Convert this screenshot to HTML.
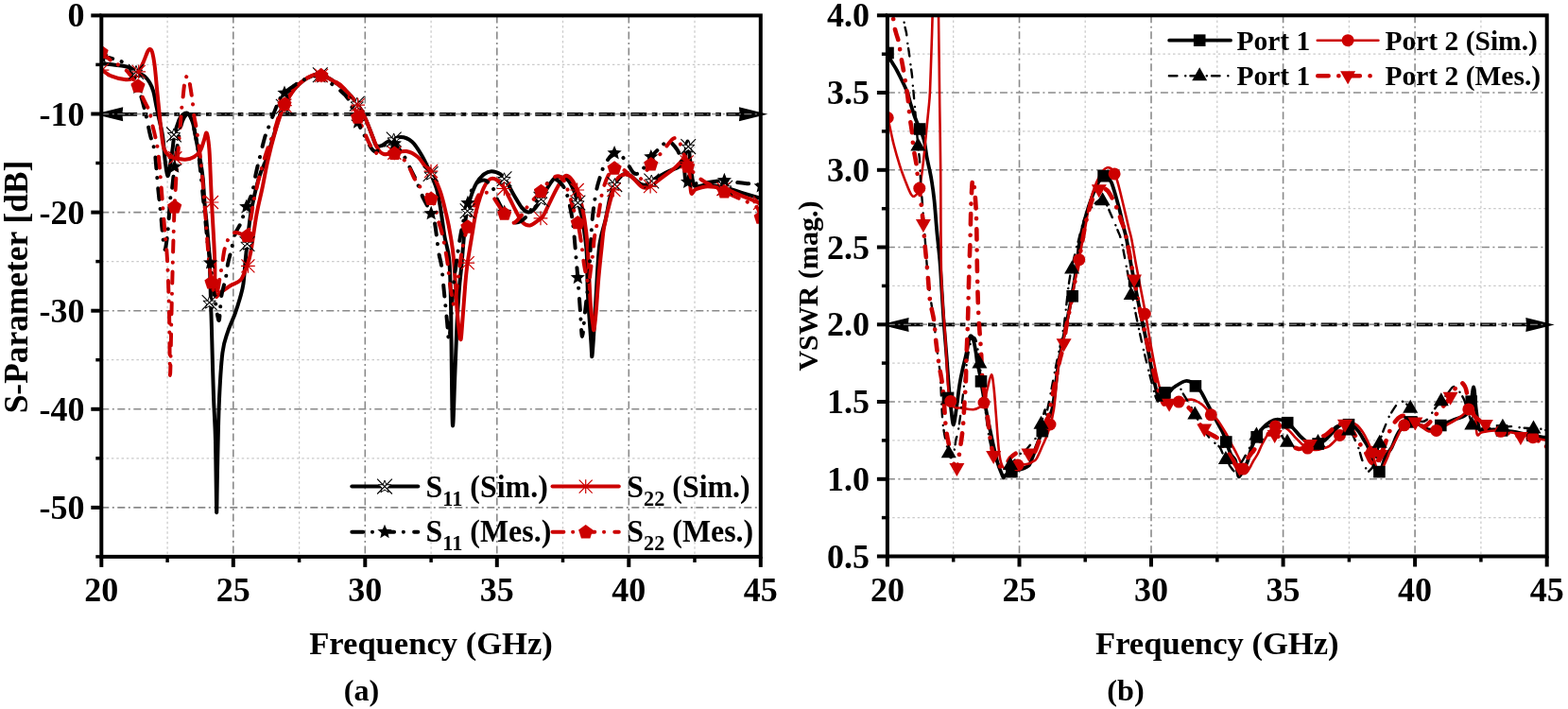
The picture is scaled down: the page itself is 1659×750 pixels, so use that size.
<!DOCTYPE html><html><head><meta charset="utf-8"><title>S-Parameter and VSWR</title><style>html,body{margin:0;padding:0;background:#fff;overflow:hidden}svg{display:block}</style></head><body><svg width="1659" height="750" viewBox="0 0 1659 750">
<rect width="100%" height="100%" fill="#fff"/>
<line x1="177.1" y1="16.4" x2="177.1" y2="588.9" stroke="#cacaca" stroke-width="1.25" stroke-dasharray="2.5 2.8"/>
<line x1="316.6" y1="16.4" x2="316.6" y2="588.9" stroke="#cacaca" stroke-width="1.25" stroke-dasharray="2.5 2.8"/>
<line x1="456.1" y1="16.4" x2="456.1" y2="588.9" stroke="#cacaca" stroke-width="1.25" stroke-dasharray="2.5 2.8"/>
<line x1="595.5" y1="16.4" x2="595.5" y2="588.9" stroke="#cacaca" stroke-width="1.25" stroke-dasharray="2.5 2.8"/>
<line x1="735.0" y1="16.4" x2="735.0" y2="588.9" stroke="#cacaca" stroke-width="1.25" stroke-dasharray="2.5 2.8"/>
<line x1="246.8" y1="16.4" x2="246.8" y2="588.9" stroke="#8a8a8a" stroke-width="1.6" stroke-dasharray="8 3.5 2 3.5"/>
<line x1="386.3" y1="16.4" x2="386.3" y2="588.9" stroke="#8a8a8a" stroke-width="1.6" stroke-dasharray="8 3.5 2 3.5"/>
<line x1="525.8" y1="16.4" x2="525.8" y2="588.9" stroke="#8a8a8a" stroke-width="1.6" stroke-dasharray="8 3.5 2 3.5"/>
<line x1="665.3" y1="16.4" x2="665.3" y2="588.9" stroke="#8a8a8a" stroke-width="1.6" stroke-dasharray="8 3.5 2 3.5"/>
<line x1="107.3" y1="68.4" x2="804.8" y2="68.4" stroke="#cacaca" stroke-width="1.25" stroke-dasharray="2.5 2.8"/>
<line x1="107.3" y1="172.5" x2="804.8" y2="172.5" stroke="#cacaca" stroke-width="1.25" stroke-dasharray="2.5 2.8"/>
<line x1="107.3" y1="276.6" x2="804.8" y2="276.6" stroke="#cacaca" stroke-width="1.25" stroke-dasharray="2.5 2.8"/>
<line x1="107.3" y1="380.7" x2="804.8" y2="380.7" stroke="#cacaca" stroke-width="1.25" stroke-dasharray="2.5 2.8"/>
<line x1="107.3" y1="484.8" x2="804.8" y2="484.8" stroke="#cacaca" stroke-width="1.25" stroke-dasharray="2.5 2.8"/>
<line x1="107.3" y1="120.5" x2="804.8" y2="120.5" stroke="#8a8a8a" stroke-width="1.6" stroke-dasharray="8 3.5 2 3.5"/>
<line x1="107.3" y1="224.6" x2="804.8" y2="224.6" stroke="#8a8a8a" stroke-width="1.6" stroke-dasharray="8 3.5 2 3.5"/>
<line x1="107.3" y1="328.7" x2="804.8" y2="328.7" stroke="#8a8a8a" stroke-width="1.6" stroke-dasharray="8 3.5 2 3.5"/>
<line x1="107.3" y1="432.8" x2="804.8" y2="432.8" stroke="#8a8a8a" stroke-width="1.6" stroke-dasharray="8 3.5 2 3.5"/>
<line x1="107.3" y1="536.9" x2="804.8" y2="536.9" stroke="#8a8a8a" stroke-width="1.6" stroke-dasharray="8 3.5 2 3.5"/>
<line x1="1008.7" y1="16.3" x2="1008.7" y2="588.5" stroke="#cacaca" stroke-width="1.25" stroke-dasharray="2.5 2.8"/>
<line x1="1148.2" y1="16.3" x2="1148.2" y2="588.5" stroke="#cacaca" stroke-width="1.25" stroke-dasharray="2.5 2.8"/>
<line x1="1287.8" y1="16.3" x2="1287.8" y2="588.5" stroke="#cacaca" stroke-width="1.25" stroke-dasharray="2.5 2.8"/>
<line x1="1427.4" y1="16.3" x2="1427.4" y2="588.5" stroke="#cacaca" stroke-width="1.25" stroke-dasharray="2.5 2.8"/>
<line x1="1566.9" y1="16.3" x2="1566.9" y2="588.5" stroke="#cacaca" stroke-width="1.25" stroke-dasharray="2.5 2.8"/>
<line x1="1078.5" y1="16.3" x2="1078.5" y2="588.5" stroke="#8a8a8a" stroke-width="1.6" stroke-dasharray="8 3.5 2 3.5"/>
<line x1="1218.0" y1="16.3" x2="1218.0" y2="588.5" stroke="#8a8a8a" stroke-width="1.6" stroke-dasharray="8 3.5 2 3.5"/>
<line x1="1357.6" y1="16.3" x2="1357.6" y2="588.5" stroke="#8a8a8a" stroke-width="1.6" stroke-dasharray="8 3.5 2 3.5"/>
<line x1="1497.1" y1="16.3" x2="1497.1" y2="588.5" stroke="#8a8a8a" stroke-width="1.6" stroke-dasharray="8 3.5 2 3.5"/>
<line x1="938.9" y1="57.2" x2="1636.7" y2="57.2" stroke="#cacaca" stroke-width="1.25" stroke-dasharray="2.5 2.8"/>
<line x1="938.9" y1="138.9" x2="1636.7" y2="138.9" stroke="#cacaca" stroke-width="1.25" stroke-dasharray="2.5 2.8"/>
<line x1="938.9" y1="220.7" x2="1636.7" y2="220.7" stroke="#cacaca" stroke-width="1.25" stroke-dasharray="2.5 2.8"/>
<line x1="938.9" y1="302.4" x2="1636.7" y2="302.4" stroke="#cacaca" stroke-width="1.25" stroke-dasharray="2.5 2.8"/>
<line x1="938.9" y1="384.1" x2="1636.7" y2="384.1" stroke="#cacaca" stroke-width="1.25" stroke-dasharray="2.5 2.8"/>
<line x1="938.9" y1="465.9" x2="1636.7" y2="465.9" stroke="#cacaca" stroke-width="1.25" stroke-dasharray="2.5 2.8"/>
<line x1="938.9" y1="547.6" x2="1636.7" y2="547.6" stroke="#cacaca" stroke-width="1.25" stroke-dasharray="2.5 2.8"/>
<line x1="938.9" y1="98.0" x2="1636.7" y2="98.0" stroke="#8a8a8a" stroke-width="1.6" stroke-dasharray="8 3.5 2 3.5"/>
<line x1="938.9" y1="179.8" x2="1636.7" y2="179.8" stroke="#8a8a8a" stroke-width="1.6" stroke-dasharray="8 3.5 2 3.5"/>
<line x1="938.9" y1="261.5" x2="1636.7" y2="261.5" stroke="#8a8a8a" stroke-width="1.6" stroke-dasharray="8 3.5 2 3.5"/>
<line x1="938.9" y1="343.3" x2="1636.7" y2="343.3" stroke="#8a8a8a" stroke-width="1.6" stroke-dasharray="8 3.5 2 3.5"/>
<line x1="938.9" y1="425.0" x2="1636.7" y2="425.0" stroke="#8a8a8a" stroke-width="1.6" stroke-dasharray="8 3.5 2 3.5"/>
<line x1="938.9" y1="506.8" x2="1636.7" y2="506.8" stroke="#8a8a8a" stroke-width="1.6" stroke-dasharray="8 3.5 2 3.5"/>
<defs><clipPath id="ca"><rect x="107.3" y="16.4" width="697.5" height="572.5"/></clipPath><clipPath id="cb"><rect x="938.9" y="16.3" width="697.8000000000001" height="572.2"/></clipPath></defs>
<line x1="128.2" y1="120.8" x2="783.9" y2="120.8" stroke="#000" stroke-width="3.7" stroke-dasharray="16.9 5.5 5.7 5.6"/>
<path d="M99.8,120.8 L130.2,113.3 Q128.7,120.8 130.2,128.3 Z" fill="#000"/>
<path d="M812.3,120.8 L781.9,113.3 Q783.4,120.8 781.9,128.3 Z" fill="#000"/>
<line x1="107.3" y1="120.8" x2="804.8" y2="120.8" stroke="#9a9a9a" stroke-width="1.1" stroke-dasharray="8 3.5 2 3.5"/>
<path d="M107.7,67.3C109.8,67.5 116.0,68.0 120.0,68.5C124.0,69.0 128.4,69.3 131.7,70.0C135.0,70.7 137.5,71.6 139.7,72.7C141.9,73.8 142.8,75.4 145.0,76.7C147.2,78.0 150.8,78.9 153.0,80.7C155.2,82.5 156.8,84.6 158.3,87.3C159.9,90.0 161.2,92.9 162.3,96.7C163.4,100.5 164.1,105.6 165.0,110.0C165.9,114.4 166.5,117.8 167.7,123.3C168.9,128.8 170.8,135.5 172.0,143.3C173.2,151.1 173.8,162.9 174.7,170.0C175.6,177.1 176.4,185.2 177.3,186.0C178.2,186.8 179.1,179.9 180.0,175.0C180.9,170.1 181.9,162.0 182.7,156.7C183.4,151.4 183.4,147.9 184.5,143.0C185.6,138.1 187.9,130.9 189.3,127.3C190.7,123.7 191.4,122.7 193.0,121.5C194.6,120.3 196.9,118.6 198.7,120.0C200.5,121.4 202.4,125.0 204.0,130.0C205.6,135.0 206.7,143.3 208.0,150.0C209.3,156.7 210.9,163.6 212.0,170.0C213.1,176.4 213.9,181.2 214.7,188.7C215.4,196.2 215.8,206.4 216.5,215.0C217.2,223.6 218.2,230.8 219.0,240.0C219.8,249.2 220.9,260.0 221.5,270.0C222.1,280.0 222.2,290.3 222.5,300.0C222.8,309.7 223.1,319.7 223.3,328.0C223.6,336.3 223.6,334.7 224.0,350.0C224.4,365.3 225.3,400.6 226.0,420.0C226.7,439.4 227.5,446.4 228.0,466.6C228.5,486.8 228.8,535.0 229.1,541.2C229.4,547.4 229.5,522.5 229.9,503.9C230.3,485.2 230.8,451.1 231.7,429.3C232.6,407.5 233.8,386.4 235.4,373.3C237.0,360.2 238.8,357.9 241.0,351.0C243.2,344.1 246.3,338.2 248.5,332.2C250.7,326.2 252.5,320.4 254.0,315.0C255.5,309.6 256.5,307.2 257.5,300.0C258.5,292.8 259.2,279.8 260.0,272.0C260.8,264.2 261.2,260.0 262.0,253.0C262.8,246.0 263.7,236.8 264.7,230.0C265.7,223.2 266.8,217.8 268.0,212.0C269.2,206.2 270.7,200.0 272.0,195.0C273.3,190.0 274.3,186.5 276.0,182.0C277.7,177.5 279.7,174.7 282.0,168.0C284.3,161.3 287.2,151.0 290.0,142.0C292.8,133.0 295.7,121.7 299.0,114.0C302.3,106.3 306.5,100.7 310.0,96.0C313.5,91.3 316.7,88.6 320.0,86.0C323.3,83.4 327.0,81.7 330.0,80.5C333.0,79.3 334.7,78.4 338.0,79.0C341.3,79.6 345.3,81.2 350.0,84.0C354.7,86.8 361.3,91.7 366.0,96.0C370.7,100.3 374.7,105.3 378.0,110.0C381.3,114.7 383.3,118.3 386.0,124.0C388.7,129.7 392.0,139.0 394.0,144.0C396.0,149.0 396.3,152.3 398.0,154.0C399.7,155.7 402.0,154.7 404.0,154.0C406.0,153.3 406.7,151.5 410.0,150.0C413.3,148.5 419.7,145.0 424.0,145.0C428.3,145.0 432.3,146.8 436.0,150.0C439.7,153.2 443.0,159.0 446.0,164.0C449.0,169.0 451.3,174.0 454.0,180.0C456.7,186.0 460.0,193.3 462.0,200.0C464.0,206.7 464.6,211.7 466.0,220.0C467.4,228.3 468.9,241.0 470.4,250.0C471.9,259.0 474.1,262.3 475.2,274.0C476.3,285.7 476.4,291.0 477.0,320.0C477.6,349.0 478.1,434.6 478.8,447.9C479.5,461.2 480.4,418.0 481.2,400.0C482.0,382.0 482.8,356.0 483.6,340.0C484.4,324.0 485.2,314.0 486.0,304.0C486.8,294.0 487.3,292.2 488.4,280.0C489.5,267.8 491.3,242.5 492.8,230.8C494.3,219.1 495.7,216.1 497.6,210.0C499.5,203.9 501.6,198.3 504.0,194.0C506.4,189.7 509.3,186.5 512.0,184.4C514.7,182.3 517.1,181.2 520.0,181.2C522.9,181.2 526.9,182.5 529.6,184.4C532.3,186.3 533.6,188.7 536.0,192.4C538.4,196.1 541.3,202.3 544.0,206.8C546.7,211.3 549.6,216.7 552.0,219.6C554.4,222.5 556.4,223.9 558.4,224.4C560.4,224.9 562.0,224.1 564.0,222.4C566.0,220.7 568.0,218.1 570.4,214.4C572.8,210.7 575.7,204.3 578.4,200.0C581.1,195.7 584.0,190.9 586.4,188.8C588.8,186.7 590.4,186.9 592.8,187.2C595.2,187.5 598.4,188.0 600.8,190.4C603.2,192.8 605.6,198.1 607.2,201.6C608.8,205.1 609.1,206.9 610.4,211.2C611.7,215.5 613.9,221.3 615.2,227.2C616.5,233.1 617.5,239.5 618.4,246.4C619.3,253.3 620.2,257.9 620.8,268.8C621.4,279.7 621.2,296.1 622.0,312.0C622.8,327.9 624.8,353.2 625.5,364.0C626.2,374.8 626.0,378.4 626.4,377.0C626.8,375.6 627.4,366.1 628.1,355.3C628.8,344.5 629.7,327.9 630.7,312.0C631.7,296.1 632.5,273.3 634.2,260.0C635.9,246.7 638.9,240.7 640.8,232.0C642.7,223.3 644.0,214.2 645.6,208.0C647.2,201.8 648.1,198.9 650.4,195.0C652.7,191.1 656.4,185.9 659.2,184.4C662.0,182.9 664.3,184.4 667.2,186.0C670.1,187.6 674.1,192.4 676.8,194.0C679.5,195.6 680.5,196.4 683.2,195.6C685.9,194.8 688.8,191.6 692.8,189.2C696.8,186.8 702.9,183.3 707.2,181.2C711.5,179.1 715.6,178.6 718.4,176.4C721.2,174.2 722.5,172.5 724.0,168.0C725.5,163.5 726.5,149.5 727.5,149.5C728.5,149.5 729.1,161.1 730.0,168.0C730.9,174.9 731.8,185.9 732.8,190.8C733.8,195.7 733.3,196.4 736.0,197.2C738.7,198.0 743.5,195.3 748.8,195.6C754.1,195.9 762.1,197.5 768.0,198.8C773.9,200.1 778.7,202.0 784.0,203.6C789.3,205.2 796.5,207.3 800.0,208.4C803.5,209.5 804.0,209.7 804.8,210.0" fill="none" stroke="#000" stroke-width="4.0" stroke-linecap="round" stroke-linejoin="round" clip-path="url(#ca)"/>
<path d="M107.7,74.0C109.5,75.1 114.3,79.0 118.3,80.7C122.3,82.4 128.1,83.6 131.7,84.0C135.3,84.4 137.5,84.1 139.7,83.3C141.9,82.5 142.9,82.3 145.0,79.3C147.1,76.2 150.2,69.0 152.0,65.0C153.8,61.0 154.9,57.2 156.0,55.0C157.1,52.8 157.5,52.0 158.3,52.0C159.1,52.0 160.1,52.0 161.0,55.0C161.9,58.0 162.8,63.0 163.7,70.0C164.6,77.0 165.4,87.8 166.3,96.7C167.2,105.6 168.3,116.4 169.0,123.3C169.7,130.2 169.8,132.4 170.5,138.0C171.2,143.6 171.9,152.2 173.3,156.7C174.7,161.1 176.7,162.9 178.7,164.7C180.7,166.5 182.4,166.6 185.3,167.3C188.2,168.0 192.7,168.9 196.0,168.7C199.3,168.5 202.6,167.6 205.3,166.0C208.0,164.4 210.2,162.3 212.0,159.3C213.8,156.3 214.9,151.1 216.0,148.0C217.1,144.9 217.8,139.2 218.7,140.7C219.6,142.1 220.7,150.1 221.3,156.7C221.9,163.2 222.1,170.4 222.5,180.0C222.9,189.6 223.4,202.3 224.0,214.0C224.6,225.7 225.4,239.2 226.0,250.0C226.6,260.8 227.0,268.4 227.3,278.7C227.6,289.0 227.0,306.9 228.0,312.0C229.0,317.1 230.6,311.0 233.3,309.3C236.0,307.6 240.4,304.2 244.0,302.0C247.6,299.8 251.8,299.4 254.7,296.0C257.6,292.6 259.5,286.2 261.3,281.3C263.1,276.4 263.6,275.8 265.3,266.7C267.0,257.6 269.5,237.8 271.5,226.7C273.5,215.6 275.3,209.4 277.3,200.0C279.3,190.6 281.0,180.0 283.3,170.0C285.6,160.0 288.4,149.0 291.0,140.0C293.6,131.0 295.8,123.3 299.0,116.0C302.2,108.7 306.5,101.0 310.0,96.0C313.5,91.0 316.7,88.7 320.0,86.0C323.3,83.3 327.0,81.2 330.0,80.0C333.0,78.8 334.7,78.3 338.0,79.0C341.3,79.7 345.3,81.2 350.0,84.0C354.7,86.8 361.3,91.7 366.0,96.0C370.7,100.3 374.7,105.3 378.0,110.0C381.3,114.7 383.3,118.3 386.0,124.0C388.7,129.7 391.7,138.3 394.0,144.0C396.3,149.7 398.0,154.8 400.0,158.0C402.0,161.2 403.3,162.3 406.0,163.0C408.7,163.7 412.0,162.5 416.0,162.0C420.0,161.5 425.7,159.3 430.0,160.0C434.3,160.7 438.7,163.3 442.0,166.0C445.3,168.7 447.7,173.5 450.0,176.0C452.3,178.5 453.4,176.7 456.0,181.0C458.6,185.3 462.9,194.5 465.6,202.0C468.3,209.5 470.1,218.0 472.0,226.0C473.9,234.0 475.5,242.0 476.8,250.0C478.1,258.0 478.9,261.0 480.0,274.0C481.1,287.0 482.6,315.0 483.6,328.0C484.6,341.0 485.4,346.8 486.0,352.0C486.6,357.2 486.8,359.0 487.2,359.0C487.6,359.0 487.6,361.2 488.4,352.0C489.2,342.8 491.0,316.0 492.0,304.0C493.0,292.0 493.2,289.0 494.4,280.0C495.6,271.0 497.6,259.5 499.2,250.0C500.8,240.5 502.1,230.8 504.0,222.8C505.9,214.8 508.3,207.3 510.4,202.0C512.5,196.7 514.7,192.9 516.8,190.8C518.9,188.7 520.8,188.4 523.2,189.2C525.6,190.0 528.5,192.1 531.2,195.6C533.9,199.1 536.8,205.5 539.2,210.0C541.6,214.5 543.3,218.6 545.6,222.8C547.9,227.0 550.3,232.6 552.8,235.2C555.3,237.8 558.1,238.7 560.8,238.4C563.5,238.1 566.5,235.2 568.8,233.6C571.1,232.0 572.3,232.0 574.4,228.8C576.5,225.6 579.1,219.5 581.6,214.4C584.1,209.3 586.9,203.1 589.6,198.4C592.3,193.7 595.2,188.0 597.6,186.4C600.0,184.8 601.9,186.5 604.0,188.8C606.1,191.1 608.5,195.5 610.4,200.0C612.3,204.5 613.9,210.7 615.2,216.0C616.5,221.3 617.3,224.7 618.4,232.0C619.5,239.3 620.5,245.2 621.6,260.0C622.7,274.8 623.8,306.8 624.7,320.7C625.7,334.6 626.7,338.6 627.3,343.2C627.9,347.8 627.9,350.7 628.5,348.4C629.1,346.1 629.9,338.2 630.7,329.3C631.5,320.4 632.3,306.2 633.3,294.7C634.3,283.1 635.8,269.1 636.8,260.0C637.8,250.9 637.7,247.9 639.2,240.0C640.7,232.1 643.3,221.1 645.6,212.8C647.9,204.5 650.3,194.7 652.8,190.0C655.3,185.3 658.1,184.8 660.8,184.4C663.5,184.0 665.9,185.5 668.8,187.6C671.7,189.7 676.0,195.3 678.4,197.2C680.8,199.1 681.6,198.8 683.2,198.8C684.8,198.8 685.1,199.1 688.0,197.2C690.9,195.3 696.5,190.8 700.8,187.6C705.1,184.4 710.4,180.7 713.6,178.0C716.8,175.3 718.1,173.5 720.0,171.6C721.9,169.7 723.3,166.0 724.8,166.8C726.3,167.6 727.7,170.3 728.8,176.4C729.9,182.5 730.0,199.6 731.2,203.6C732.4,207.6 733.1,201.5 736.0,200.4C738.9,199.3 743.5,197.2 748.8,197.2C754.1,197.2 762.1,198.8 768.0,200.4C773.9,202.0 778.7,204.7 784.0,206.8C789.3,208.9 796.5,211.8 800.0,213.2C803.5,214.6 804.0,214.7 804.8,215.0" fill="none" stroke="#cc0000" stroke-width="4.0" stroke-linecap="round" stroke-linejoin="round" clip-path="url(#ca)"/>
<path d="M107.7,60.0C109.1,60.2 112.6,60.5 116.0,61.3C119.4,62.1 125.0,63.5 128.3,65.0C131.6,66.5 133.9,67.5 136.0,70.0C138.1,72.5 139.5,76.7 141.0,80.0C142.5,83.3 143.6,86.3 145.0,90.0C146.4,93.7 147.7,96.7 149.3,102.0C150.9,107.3 152.9,115.1 154.5,122.0C156.1,128.9 157.5,137.3 159.0,143.3C160.5,149.3 162.2,152.4 163.3,158.0C164.4,163.6 164.6,169.7 165.3,176.7C166.0,183.7 166.5,191.9 167.3,200.0C168.1,208.1 169.3,218.3 170.0,225.0C170.7,231.7 170.8,234.4 171.3,240.0C171.9,245.6 172.7,254.9 173.3,258.7C173.9,262.5 174.2,266.1 175.0,263.0C175.8,259.9 177.2,248.5 178.0,240.0C178.8,231.5 179.3,218.7 180.0,212.0C180.7,205.3 181.0,207.8 182.0,200.0C183.0,192.2 184.5,175.8 186.0,165.0C187.5,154.2 189.5,141.8 191.0,135.0C192.5,128.2 193.7,126.3 195.0,124.0C196.3,121.7 197.5,121.0 198.7,121.0C199.9,121.0 200.9,121.7 202.0,124.0C203.1,126.3 203.8,129.8 205.0,135.0C206.2,140.2 207.8,147.5 209.0,155.0C210.2,162.5 211.0,170.8 212.0,180.0C213.0,189.2 214.0,200.0 215.0,210.0C216.0,220.0 217.2,231.7 218.0,240.0C218.8,248.3 219.2,253.7 220.0,260.0C220.8,266.3 221.8,271.3 222.6,278.0C223.4,284.7 224.1,293.0 225.0,300.0C225.9,307.0 227.2,314.5 228.0,320.0C228.8,325.5 229.3,330.0 230.0,333.0C230.7,336.0 231.3,341.3 232.0,338.0C232.7,334.7 233.2,320.2 234.3,313.0C235.4,305.8 237.6,300.5 238.7,295.0C239.8,289.5 239.9,285.0 240.9,280.0C241.9,275.0 243.2,270.5 244.6,265.0C245.9,259.5 247.3,251.8 249.0,247.0C250.7,242.2 252.8,240.7 254.7,236.0C256.6,231.3 258.7,224.0 260.7,218.7C262.7,213.4 265.0,209.8 266.7,204.0C268.4,198.2 269.5,189.7 270.7,184.0C271.9,178.3 272.4,176.3 274.0,170.0C275.6,163.7 278.0,152.7 280.0,146.0C282.0,139.3 284.0,135.3 286.0,130.0C288.0,124.7 289.8,119.0 292.0,114.0C294.2,109.0 296.3,103.5 299.0,100.0C301.7,96.5 304.5,95.5 308.0,93.0C311.5,90.5 315.0,87.2 320.0,85.0C325.0,82.8 333.0,79.5 338.0,80.0C343.0,80.5 345.0,84.0 350.0,88.0C355.0,92.0 363.7,98.0 368.0,104.0C372.3,110.0 373.0,117.3 376.0,124.0C379.0,130.7 382.7,138.0 386.0,144.0C389.3,150.0 392.7,158.3 396.0,160.0C399.3,161.7 403.0,156.0 406.0,154.0C409.0,152.0 411.5,147.7 414.0,148.0C416.5,148.3 418.7,153.0 421.0,156.0C423.3,159.0 425.8,162.3 428.0,166.0C430.2,169.7 432.0,174.0 434.0,178.0C436.0,182.0 438.3,186.3 440.0,190.0C441.7,193.7 442.7,196.7 444.0,200.0C445.3,203.3 446.5,206.8 448.0,210.0C449.5,213.2 450.9,215.3 452.8,219.0C454.7,222.7 457.3,224.2 459.2,232.0C461.1,239.8 462.7,257.7 464.0,266.0C465.3,274.3 466.2,274.7 467.2,282.0C468.2,289.3 469.0,300.3 470.0,310.0C471.0,319.7 472.2,331.7 473.0,340.0C473.8,348.3 474.3,360.0 475.0,360.0C475.7,360.0 476.2,350.0 477.0,340.0C477.8,330.0 478.8,311.7 480.0,300.0C481.2,288.3 482.7,279.2 484.0,270.0C485.3,260.8 486.3,253.9 488.0,245.0C489.7,236.1 492.3,224.4 494.4,216.4C496.5,208.4 498.7,201.3 500.8,197.2C502.9,193.1 504.9,193.1 507.0,192.0C509.1,190.9 511.6,190.1 513.6,190.8C515.6,191.5 517.4,194.1 519.0,196.0C520.6,197.9 522.0,199.4 523.2,202.0C524.4,204.6 524.9,208.3 526.4,211.6C527.9,214.9 529.9,218.5 532.0,222.0C534.1,225.5 536.9,230.1 539.2,232.4C541.5,234.7 542.8,236.0 545.6,235.6C548.4,235.2 552.6,233.4 556.0,230.0C559.4,226.6 562.7,220.3 566.0,215.0C569.3,209.7 572.7,202.3 576.0,198.0C579.3,193.7 582.5,188.9 586.0,189.0C589.5,189.1 594.1,194.2 596.8,198.4C599.5,202.6 600.5,207.9 602.0,214.0C603.5,220.1 604.9,226.7 606.0,235.0C607.1,243.3 608.0,254.8 608.8,264.0C609.6,273.2 610.1,279.0 611.0,290.0C611.9,301.0 613.2,319.0 614.0,330.0C614.8,341.0 615.2,356.0 616.0,356.0C616.8,356.0 617.8,341.0 619.0,330.0C620.2,319.0 622.0,305.8 623.2,290.0C624.4,274.2 625.2,249.4 626.4,235.2C627.6,221.0 629.1,212.7 630.4,205.0C631.7,197.3 632.8,194.0 634.4,188.8C636.0,183.6 637.3,178.5 640.0,174.0C642.7,169.5 646.9,162.5 650.4,161.6C653.9,160.7 657.5,164.9 660.8,168.4C664.1,171.9 667.5,180.7 670.4,182.8C673.3,184.9 675.5,183.9 678.4,181.2C681.3,178.5 684.5,171.1 688.0,166.8C691.5,162.5 696.0,158.5 699.2,155.6C702.4,152.7 704.3,148.7 707.2,149.2C710.1,149.7 714.7,155.6 716.8,158.8C718.9,162.0 718.8,164.9 720.0,168.4C721.2,171.9 722.9,176.0 724.0,180.0C725.1,184.0 723.9,190.1 726.4,192.4C728.9,194.7 732.5,194.3 739.2,194.0C745.9,193.7 760.3,191.1 766.4,190.8C772.5,190.5 772.3,191.9 776.0,192.4C779.7,192.9 784.8,193.6 788.8,194.0C792.8,194.4 797.3,194.3 800.0,194.8C802.7,195.3 804.0,196.6 804.8,197.0" fill="none" stroke="#000" stroke-width="4.0" stroke-linecap="round" stroke-linejoin="round" stroke-dasharray="11.9 9.7 0.1 11.2" clip-path="url(#ca)"/>
<path d="M107.7,55.3C109.5,56.9 115.0,62.2 118.3,64.7C121.6,67.2 124.8,68.0 127.7,70.0C130.6,72.0 132.7,73.2 135.7,76.7C138.7,80.2 143.0,86.6 145.7,91.3C148.4,96.0 149.6,100.2 151.7,104.7C153.8,109.2 156.9,114.2 158.3,118.0C159.7,121.8 159.1,123.1 160.0,127.3C160.9,131.5 162.8,137.7 164.0,143.3C165.2,148.9 166.3,152.9 167.3,160.7C168.3,168.5 168.9,176.8 170.0,190.0C171.1,203.2 172.8,225.8 174.0,240.0C175.2,254.2 176.2,260.0 177.0,275.0C177.8,290.0 178.5,309.7 179.0,330.0C179.5,350.3 179.6,397.0 180.0,397.0C180.4,397.0 181.0,351.2 181.5,330.0C182.0,308.8 182.6,285.7 183.0,270.0C183.4,254.3 183.7,244.6 184.0,236.0C184.3,227.4 184.2,227.5 184.7,218.7C185.1,209.9 185.9,194.8 186.7,183.3C187.5,171.9 188.6,158.9 189.3,150.0C190.0,141.1 190.6,135.5 191.0,130.0C191.4,124.5 191.6,121.5 192.0,117.0C192.4,112.5 193.1,107.5 193.6,103.0C194.1,98.5 194.5,93.3 195.0,90.0C195.5,86.7 195.9,84.7 196.5,83.0C197.1,81.3 197.9,79.8 198.5,80.0C199.1,80.2 199.6,82.2 200.0,84.0C200.4,85.8 200.7,88.2 201.2,91.0C201.7,93.8 202.3,97.8 202.8,101.0C203.3,104.2 203.5,106.2 204.0,110.0C204.5,113.8 204.9,119.5 205.6,124.0C206.3,128.5 207.2,131.6 208.0,137.0C208.8,142.4 209.9,150.8 210.7,156.7C211.5,162.6 211.8,163.8 212.7,172.7C213.6,181.6 214.9,197.1 216.0,210.0C217.1,222.9 218.1,238.6 219.0,250.0C219.9,261.4 220.5,270.6 221.3,278.7C222.1,286.8 223.2,293.8 224.0,298.7C224.8,303.6 225.4,305.8 226.0,308.0C226.6,310.2 227.1,312.0 227.8,312.0C228.5,312.0 229.3,310.5 230.0,308.0C230.7,305.5 231.3,301.7 232.1,297.0C232.9,292.3 234.1,285.3 235.0,280.0C235.9,274.7 236.4,269.0 237.3,265.0C238.2,261.0 239.1,258.8 240.2,256.0C241.3,253.2 242.3,249.7 243.9,248.0C245.5,246.3 248.0,246.0 250.0,246.0C252.0,246.0 254.1,247.4 256.0,248.0C257.9,248.6 260.2,250.9 261.5,249.6C262.8,248.3 262.9,245.8 264.0,240.0C265.1,234.2 266.7,222.2 268.0,215.0C269.3,207.8 270.7,202.7 272.0,197.0C273.3,191.3 274.7,186.0 276.0,181.0C277.3,176.0 278.7,171.3 280.0,167.0C281.3,162.7 282.3,159.7 284.0,155.0C285.7,150.3 287.7,145.7 290.0,139.0C292.3,132.3 294.7,122.2 298.0,115.0C301.3,107.8 306.3,100.8 310.0,96.0C313.7,91.2 316.7,88.7 320.0,86.0C323.3,83.3 327.0,81.2 330.0,80.0C333.0,78.8 334.7,78.3 338.0,79.0C341.3,79.7 345.3,81.2 350.0,84.0C354.7,86.8 360.3,87.3 366.0,96.0C371.7,104.7 379.7,126.3 384.0,136.0C388.3,145.7 389.0,149.3 392.0,154.0C395.0,158.7 397.8,162.7 402.0,164.0C406.2,165.3 412.3,160.7 417.0,162.0C421.7,163.3 426.5,167.7 430.0,172.0C433.5,176.3 436.1,184.6 438.0,188.0C439.9,191.4 440.3,190.4 441.6,192.4C442.9,194.4 443.6,197.1 446.0,200.0C448.4,202.9 453.5,206.5 456.0,210.0C458.5,213.5 459.6,217.4 460.8,221.0C462.0,224.6 462.0,227.1 463.2,231.6C464.4,236.1 466.7,242.5 468.0,248.0C469.3,253.5 470.3,259.3 471.2,264.4C472.1,269.5 472.8,272.9 473.6,278.8C474.4,284.7 475.1,293.5 476.0,300.0C476.9,306.5 478.2,314.3 479.0,318.0C479.8,321.7 480.2,325.0 481.0,322.0C481.8,319.0 482.8,308.7 484.0,300.0C485.2,291.3 486.7,278.3 488.0,270.0C489.3,261.7 490.9,254.7 492.0,250.0C493.1,245.3 493.1,246.7 494.4,242.0C495.7,237.3 497.9,228.1 500.0,222.0C502.1,215.9 504.9,208.3 507.2,205.2C509.5,202.1 511.8,203.6 513.6,203.6C515.4,203.6 516.5,204.1 518.0,205.0C519.5,205.9 520.7,207.0 522.4,209.2C524.1,211.4 526.1,215.2 528.0,218.0C529.9,220.8 531.2,223.1 533.6,226.0C536.0,228.9 539.7,234.9 542.4,235.6C545.1,236.3 547.1,233.3 550.0,230.0C552.9,226.7 556.3,220.5 560.0,216.0C563.7,211.5 568.7,207.0 572.0,203.2C575.3,199.4 577.2,195.8 580.0,193.0C582.8,190.2 586.1,186.9 588.8,186.4C591.5,185.9 593.8,186.9 596.0,190.0C598.2,193.1 600.2,199.7 602.0,205.0C603.8,210.3 605.5,217.0 607.0,222.0C608.5,227.0 609.8,229.2 611.2,235.2C612.6,241.2 614.1,250.5 615.2,258.0C616.3,265.5 617.0,273.8 618.0,280.0C619.0,286.2 620.4,291.7 621.2,295.0C622.0,298.3 622.4,301.7 623.0,300.0C623.6,298.3 624.3,290.3 625.0,285.0C625.7,279.7 626.7,273.5 627.3,268.0C627.9,262.5 628.0,257.5 628.8,252.0C629.6,246.5 631.1,240.3 632.0,235.0C632.9,229.7 633.5,225.5 634.4,220.0C635.3,214.5 636.1,207.6 637.6,202.0C639.1,196.4 641.1,190.5 643.2,186.4C645.3,182.3 648.0,179.0 650.4,177.6C652.8,176.2 655.0,176.8 657.6,178.0C660.2,179.2 663.1,182.9 666.0,185.0C668.9,187.1 672.6,190.9 675.2,190.8C677.8,190.7 679.5,187.1 681.6,184.4C683.7,181.7 684.8,178.8 688.0,174.8C691.2,170.8 696.8,165.1 700.8,160.4C704.8,155.7 709.1,148.7 712.0,146.8C714.9,144.9 716.8,147.2 718.4,149.2C720.0,151.2 720.5,155.9 721.6,158.8C722.7,161.7 723.9,164.0 724.8,166.8C725.7,169.6 725.3,172.7 727.2,175.6C729.1,178.5 733.0,181.7 736.0,184.4C739.0,187.1 739.9,188.9 745.0,192.0C750.1,195.1 760.8,200.1 766.4,202.8C772.0,205.6 775.2,206.9 778.8,208.5C782.4,210.1 785.3,211.3 788.0,212.5C790.7,213.7 793.0,214.5 795.0,215.5C797.0,216.5 798.8,217.4 800.0,218.5C801.2,219.6 801.7,220.1 802.5,222.0C803.3,223.9 804.4,228.7 804.8,230.0" fill="none" stroke="#cc0000" stroke-width="4.0" stroke-linecap="round" stroke-linejoin="round" stroke-dasharray="11.9 9.7 0.1 11.2" clip-path="url(#ca)"/>
<g clip-path="url(#ca)"><polygon points="144.0,69.4 145.8,74.0 150.7,74.3 146.9,77.4 148.1,82.1 144.0,79.4 139.9,82.1 141.1,77.4 137.3,74.3 142.2,74.0" fill="#fff" stroke="#000" stroke-width="1.0"/><path d="M136.1,68.0L151.9,83.8M136.1,83.8L151.9,68.0" stroke="#000" stroke-width="1.1"/><polygon points="184.0,135.9 185.8,140.5 190.7,140.7 186.9,143.8 188.1,148.6 184.0,145.9 179.9,148.6 181.1,143.8 177.3,140.7 182.2,140.5" fill="#fff" stroke="#000" stroke-width="1.0"/><path d="M176.1,134.5L191.9,150.3M176.1,150.3L191.9,134.5" stroke="#000" stroke-width="1.1"/><polygon points="221.6,313.5 223.4,318.1 228.3,318.3 224.5,321.4 225.7,326.2 221.6,323.5 217.5,326.2 218.7,321.4 214.9,318.3 219.8,318.1" fill="#fff" stroke="#000" stroke-width="1.0"/><path d="M213.7,312.1L229.5,327.9M213.7,327.9L229.5,312.1" stroke="#000" stroke-width="1.1"/><polygon points="261.5,251.5 263.3,256.1 268.2,256.3 264.4,259.4 265.6,264.2 261.5,261.5 257.4,264.2 258.6,259.4 254.8,256.3 259.7,256.1" fill="#fff" stroke="#000" stroke-width="1.0"/><path d="M253.6,250.1L269.4,265.9M253.6,265.9L269.4,250.1" stroke="#000" stroke-width="1.1"/><polygon points="299.8,106.2 301.6,110.8 306.5,111.0 302.7,114.1 303.9,118.9 299.8,116.2 295.7,118.9 296.9,114.1 293.1,111.0 298.0,110.8" fill="#fff" stroke="#000" stroke-width="1.0"/><path d="M291.9,104.8L307.7,120.6M291.9,120.6L307.7,104.8" stroke="#000" stroke-width="1.1"/><polygon points="338.8,72.8 340.5,77.4 345.4,77.6 341.6,80.7 342.9,85.5 338.8,82.8 334.6,85.5 335.9,80.7 332.1,77.6 337.0,77.4" fill="#fff" stroke="#000" stroke-width="1.0"/><path d="M330.9,71.4L346.6,87.2M330.9,87.2L346.6,71.4" stroke="#000" stroke-width="1.1"/><polygon points="377.7,103.2 379.5,107.7 384.4,108.0 380.6,111.1 381.8,115.8 377.7,113.2 373.6,115.8 374.8,111.1 371.0,108.0 375.9,107.7" fill="#fff" stroke="#000" stroke-width="1.0"/><path d="M369.8,101.8L385.6,117.6M369.8,117.6L385.6,101.8" stroke="#000" stroke-width="1.1"/><polygon points="416.7,141.1 418.4,145.7 423.3,146.0 419.5,149.1 420.8,153.8 416.7,151.1 412.5,153.8 413.8,149.1 410.0,146.0 414.9,145.7" fill="#fff" stroke="#000" stroke-width="1.0"/><path d="M408.8,139.7L424.6,155.5M408.8,155.5L424.6,139.7" stroke="#000" stroke-width="1.1"/><polygon points="455.6,177.5 457.4,182.1 462.3,182.3 458.5,185.4 459.7,190.2 455.6,187.5 451.5,190.2 452.7,185.4 448.9,182.3 453.8,182.1" fill="#fff" stroke="#000" stroke-width="1.0"/><path d="M447.7,176.1L463.5,191.9M447.7,191.9L463.5,176.1" stroke="#000" stroke-width="1.1"/><polygon points="494.6,216.7 496.3,221.3 501.2,221.6 497.4,224.6 498.7,229.4 494.6,226.7 490.4,229.4 491.7,224.6 487.9,221.6 492.8,221.3" fill="#fff" stroke="#000" stroke-width="1.0"/><path d="M486.7,215.3L502.4,231.1M486.7,231.1L502.4,215.3" stroke="#000" stroke-width="1.1"/><polygon points="533.5,182.8 535.3,187.3 540.2,187.6 536.4,190.7 537.6,195.4 533.5,192.8 529.4,195.4 530.6,190.7 526.8,187.6 531.7,187.3" fill="#fff" stroke="#000" stroke-width="1.0"/><path d="M525.6,181.4L541.4,197.2M525.6,197.2L541.4,181.4" stroke="#000" stroke-width="1.1"/><polygon points="572.5,204.2 574.2,208.8 579.1,209.0 575.3,212.1 576.6,216.9 572.5,214.2 568.3,216.9 569.6,212.1 565.8,209.0 570.7,208.8" fill="#fff" stroke="#000" stroke-width="1.0"/><path d="M564.6,202.8L580.4,218.6M564.6,218.6L580.4,202.8" stroke="#000" stroke-width="1.1"/><polygon points="611.4,208.0 613.2,212.6 618.1,212.9 614.3,216.0 615.5,220.7 611.4,218.0 607.3,220.7 608.5,216.0 604.7,212.9 609.6,212.6" fill="#fff" stroke="#000" stroke-width="1.0"/><path d="M603.5,206.6L619.3,222.4M603.5,222.4L619.3,206.6" stroke="#000" stroke-width="1.1"/><polygon points="650.4,188.6 652.1,193.2 657.0,193.5 653.2,196.6 654.5,201.3 650.4,198.6 646.2,201.3 647.5,196.6 643.7,193.5 648.6,193.2" fill="#fff" stroke="#000" stroke-width="1.0"/><path d="M642.5,187.2L658.2,203.0M642.5,203.0L658.2,187.2" stroke="#000" stroke-width="1.1"/><polygon points="689.3,185.0 691.1,189.6 696.0,189.9 692.2,193.0 693.4,197.7 689.3,195.0 685.2,197.7 686.4,193.0 682.6,189.9 687.5,189.6" fill="#fff" stroke="#000" stroke-width="1.0"/><path d="M681.4,183.6L697.2,199.4M681.4,199.4L697.2,183.6" stroke="#000" stroke-width="1.1"/><polygon points="728.2,148.6 730.0,153.1 734.9,153.4 731.1,156.5 732.4,161.2 728.2,158.6 724.1,161.2 725.4,156.5 721.6,153.4 726.5,153.1" fill="#fff" stroke="#000" stroke-width="1.0"/><path d="M720.4,147.2L736.1,163.0M720.4,163.0L736.1,147.2" stroke="#000" stroke-width="1.1"/><polygon points="767.2,192.2 769.0,196.7 773.9,197.0 770.1,200.1 771.3,204.8 767.2,202.2 763.1,204.8 764.3,200.1 760.5,197.0 765.4,196.7" fill="#fff" stroke="#000" stroke-width="1.0"/><path d="M759.3,190.8L775.1,206.6M759.3,206.6L775.1,190.8" stroke="#000" stroke-width="1.1"/><path d="M108.0,66.8V81.6M100.6,74.2H115.4M101.0,67.2L115.0,81.2M101.0,81.2L115.0,67.2" stroke="#cc0000" stroke-width="1.2"/><path d="M146.7,68.5V83.3M139.3,75.9H154.1M139.6,68.9L153.7,82.9M139.6,82.9L153.7,68.9" stroke="#cc0000" stroke-width="1.2"/><path d="M185.3,159.9V174.7M177.9,167.3H192.7M178.3,160.3L192.4,174.3M178.3,174.3L192.4,160.3" stroke="#cc0000" stroke-width="1.2"/><path d="M224.0,206.6V221.4M216.6,214.0H231.4M217.0,207.0L231.0,221.0M217.0,221.0L231.0,207.0" stroke="#cc0000" stroke-width="1.2"/><path d="M262.4,273.9V288.7M255.0,281.3H269.8M255.4,274.3L269.4,288.3M255.4,288.3L269.4,274.3" stroke="#cc0000" stroke-width="1.2"/><path d="M301.4,104.3V119.1M294.0,111.7H308.8M294.3,104.7L308.4,118.8M294.3,118.8L308.4,104.7" stroke="#cc0000" stroke-width="1.2"/><path d="M340.0,72.4V87.2M332.6,79.8H347.4M333.0,72.8L347.0,86.9M333.0,86.9L347.0,72.8" stroke="#cc0000" stroke-width="1.2"/><path d="M378.7,103.8V118.6M371.3,111.2H386.1M371.7,104.2L385.7,118.2M371.7,118.2L385.7,104.2" stroke="#cc0000" stroke-width="1.2"/><path d="M417.4,154.4V169.2M410.0,161.8H424.8M410.3,154.8L424.4,168.8M410.3,168.8L424.4,154.8" stroke="#cc0000" stroke-width="1.2"/><path d="M456.0,173.7V188.5M448.6,181.1H463.4M449.0,174.0L463.1,188.1M449.0,188.1L463.1,174.0" stroke="#cc0000" stroke-width="1.2"/><path d="M494.7,270.7V285.5M487.3,278.1H502.1M487.7,271.1L501.7,285.2M487.7,285.2L501.7,271.1" stroke="#cc0000" stroke-width="1.2"/><path d="M533.4,192.1V206.9M526.0,199.5H540.8M526.3,192.5L540.4,206.5M526.3,206.5L540.4,192.5" stroke="#cc0000" stroke-width="1.2"/><path d="M572.0,223.4V238.2M564.6,230.8H579.4M565.0,223.8L579.1,237.9M565.0,237.9L579.1,223.8" stroke="#cc0000" stroke-width="1.2"/><path d="M610.7,193.6V208.4M603.3,201.0H618.1M603.7,194.0L617.7,208.1M603.7,208.1L617.7,194.0" stroke="#cc0000" stroke-width="1.2"/><path d="M649.4,193.4V208.2M642.0,200.8H656.8M642.4,193.8L656.4,207.9M642.4,207.9L656.4,193.8" stroke="#cc0000" stroke-width="1.2"/><path d="M688.1,189.8V204.6M680.7,197.2H695.5M681.0,190.1L695.1,204.2M681.0,204.2L695.1,190.1" stroke="#cc0000" stroke-width="1.2"/><path d="M726.7,164.0V178.8M719.3,171.4H734.1M719.7,164.4L733.8,178.4M719.7,178.4L733.8,164.4" stroke="#cc0000" stroke-width="1.2"/><path d="M765.4,192.6V207.4M758.0,200.0H772.8M758.4,192.9L772.4,207.0M758.4,207.0L772.4,192.9" stroke="#cc0000" stroke-width="1.2"/><path d="M804.1,207.3V222.1M796.7,214.7H811.5M797.0,207.7L811.1,221.8M797.0,221.8L811.1,207.7" stroke="#cc0000" stroke-width="1.2"/><polygon points="107.1,52.0 109.3,57.1 114.7,57.5 110.6,61.1 111.8,66.5 107.1,63.6 102.4,66.5 103.7,61.1 99.5,57.5 105.0,57.1" fill="#000"/><polygon points="145.9,84.6 148.0,89.7 153.5,90.1 149.3,93.7 150.6,99.0 145.9,96.2 141.2,99.0 142.5,93.7 138.3,90.1 143.8,89.7" fill="#000"/><polygon points="184.7,168.4 186.8,173.5 192.3,173.9 188.1,177.5 189.4,182.8 184.7,180.0 180.0,182.8 181.3,177.5 177.1,173.9 182.6,173.5" fill="#000"/><polygon points="222.6,270.1 224.7,275.2 230.2,275.6 226.0,279.2 227.3,284.6 222.6,281.7 217.9,284.6 219.2,279.2 215.0,275.6 220.5,275.2" fill="#000"/><polygon points="260.7,210.7 262.8,215.8 268.3,216.2 264.1,219.8 265.4,225.2 260.7,222.3 256.0,225.2 257.3,219.8 253.1,216.2 258.6,215.8" fill="#000"/><polygon points="301.0,90.4 303.2,95.5 308.6,95.9 304.5,99.5 305.7,104.9 301.0,102.0 296.3,104.9 297.6,99.5 293.4,95.9 298.9,95.5" fill="#000"/><polygon points="339.8,73.2 341.9,78.3 347.4,78.7 343.2,82.3 344.5,87.7 339.8,84.8 335.1,87.7 336.4,82.3 332.2,78.7 337.7,78.3" fill="#000"/><polygon points="378.6,121.2 380.7,126.3 386.2,126.7 382.0,130.3 383.3,135.7 378.6,132.8 373.9,135.7 375.2,130.3 371.0,126.7 376.5,126.3" fill="#000"/><polygon points="417.4,143.9 419.5,149.0 425.0,149.4 420.8,153.0 422.1,158.3 417.4,155.5 412.7,158.3 414.0,153.0 409.8,149.4 415.3,149.0" fill="#000"/><polygon points="456.2,217.8 458.3,222.9 463.8,223.4 459.6,226.9 460.9,232.3 456.2,229.4 451.5,232.3 452.7,226.9 448.6,223.4 454.0,222.9" fill="#000"/><polygon points="494.9,206.8 497.1,211.9 502.5,212.3 498.4,215.9 499.6,221.3 494.9,218.4 490.2,221.3 491.5,215.9 487.3,212.3 492.8,211.9" fill="#000"/><polygon points="533.7,216.5 535.8,221.6 541.3,222.0 537.1,225.6 538.4,231.0 533.7,228.1 529.0,231.0 530.3,225.6 526.1,222.0 531.6,221.6" fill="#000"/><polygon points="572.5,195.9 574.6,201.0 580.1,201.5 575.9,205.1 577.2,210.4 572.5,207.5 567.8,210.4 569.1,205.1 564.9,201.5 570.4,201.0" fill="#000"/><polygon points="611.3,285.7 613.4,290.8 618.9,291.3 614.7,294.8 616.0,300.2 611.3,297.3 606.6,300.2 607.9,294.8 603.7,291.3 609.2,290.8" fill="#000"/><polygon points="650.1,154.0 652.2,159.1 657.7,159.5 653.5,163.1 654.8,168.5 650.1,165.6 645.4,168.5 646.6,163.1 642.5,159.5 647.9,159.1" fill="#000"/><polygon points="688.8,158.0 691.0,163.0 696.4,163.5 692.3,167.1 693.5,172.4 688.8,169.6 684.1,172.4 685.4,167.1 681.2,163.5 686.7,163.0" fill="#000"/><polygon points="727.6,184.6 729.7,189.6 735.2,190.1 731.0,193.7 732.3,199.0 727.6,196.2 722.9,199.0 724.2,193.7 720.0,190.1 725.5,189.6" fill="#000"/><polygon points="766.4,182.8 768.5,187.9 774.0,188.3 769.8,191.9 771.1,197.3 766.4,194.4 761.7,197.3 763.0,191.9 758.8,188.3 764.3,187.9" fill="#000"/><polygon points="805.2,189.0 807.3,194.1 812.8,194.5 808.6,198.1 809.9,203.5 805.2,200.6 800.5,203.5 801.8,198.1 797.6,194.5 803.1,194.1" fill="#000"/><polygon points="107.1,47.5 114.7,53.0 111.8,62.0 102.4,62.0 99.5,53.0" fill="#cc0000"/><polygon points="146.0,83.2 153.6,88.7 150.7,97.7 141.3,97.7 138.4,88.7" fill="#cc0000"/><polygon points="184.7,210.9 192.3,216.4 189.4,225.4 180.0,225.4 177.1,216.4" fill="#cc0000"/><polygon points="224.0,290.9 231.6,296.4 228.7,305.4 219.3,305.4 216.4,296.4" fill="#cc0000"/><polygon points="261.5,241.8 269.1,247.3 266.2,256.3 256.8,256.3 253.9,247.3" fill="#cc0000"/><polygon points="301.0,102.4 308.6,107.9 305.7,116.9 296.3,116.9 293.4,107.9" fill="#cc0000"/><polygon points="339.8,72.0 347.4,77.5 344.5,86.4 335.1,86.4 332.2,77.5" fill="#cc0000"/><polygon points="378.6,116.2 386.2,121.7 383.3,130.7 373.9,130.7 371.0,121.7" fill="#cc0000"/><polygon points="417.4,154.5 425.0,160.0 422.1,169.0 412.7,169.0 409.8,160.0" fill="#cc0000"/><polygon points="456.2,202.6 463.8,208.1 460.9,217.0 451.5,217.0 448.6,208.1" fill="#cc0000"/><polygon points="494.9,232.3 502.5,237.8 499.6,246.7 490.2,246.7 487.3,237.8" fill="#cc0000"/><polygon points="533.7,218.3 541.3,223.9 538.4,232.8 529.0,232.8 526.1,223.9" fill="#cc0000"/><polygon points="572.5,194.8 580.1,200.3 577.2,209.2 567.8,209.2 564.9,200.3" fill="#cc0000"/><polygon points="611.3,227.9 618.9,233.4 616.0,242.3 606.6,242.3 603.7,233.4" fill="#cc0000"/><polygon points="650.1,170.2 657.7,175.7 654.8,184.7 645.4,184.7 642.5,175.7" fill="#cc0000"/><polygon points="688.8,166.1 696.4,171.6 693.5,180.5 684.1,180.5 681.2,171.6" fill="#cc0000"/><polygon points="727.6,168.2 735.2,173.7 732.3,182.7 722.9,182.7 720.0,173.7" fill="#cc0000"/><polygon points="766.4,195.0 774.0,200.5 771.1,209.5 761.7,209.5 758.8,200.5" fill="#cc0000"/><polygon points="805.2,222.2 812.8,227.7 809.9,236.7 800.5,236.7 797.6,227.7" fill="#cc0000"/></g>
<line x1="959.6" y1="343.4" x2="1616.3" y2="343.4" stroke="#000" stroke-width="3.7" stroke-dasharray="16.9 5.5 5.7 5.6"/>
<path d="M931.2,343.4 L961.6,335.9 Q960.1,343.4 961.6,350.9 Z" fill="#000"/>
<path d="M1644.7,343.4 L1614.3,335.9 Q1615.8,343.4 1614.3,350.9 Z" fill="#000"/>
<line x1="938.9" y1="343.3" x2="1636.7" y2="343.3" stroke="#9a9a9a" stroke-width="1.1" stroke-dasharray="8 3.5 2 3.5"/>
<path d="M938.9,54.0C939.3,55.2 939.5,58.0 941.1,61.4C942.8,64.8 946.4,69.9 948.8,74.2C951.1,78.5 953.3,83.0 955.2,87.0C957.1,91.0 958.9,94.7 960.3,98.5C961.7,102.3 962.2,105.8 963.5,110.0C964.8,114.2 966.6,120.1 968.0,124.0C969.4,127.9 970.4,129.6 972.0,133.6C973.6,137.6 976.1,142.4 977.6,148.0C979.1,153.6 979.7,161.5 980.8,167.2C981.9,172.9 983.1,177.7 984.0,182.0C984.9,186.3 985.2,188.0 986.0,193.0C986.8,198.0 987.6,203.5 988.5,212.0C989.4,220.5 990.2,233.3 991.2,244.0C992.2,254.7 993.6,266.7 994.4,276.0C995.2,285.3 995.3,289.7 996.0,300.0C996.7,310.3 997.5,325.0 998.4,338.0C999.3,351.0 1000.7,366.0 1001.6,378.0C1002.5,390.0 1003.2,400.5 1004.0,410.0C1004.8,419.5 1005.7,428.5 1006.5,435.0C1007.3,441.5 1008.0,450.0 1009.0,449.2C1010.0,448.4 1011.1,437.2 1012.2,430.0C1013.3,422.8 1014.3,412.7 1015.4,406.0C1016.5,399.3 1017.5,395.0 1018.6,390.0C1019.7,385.0 1020.9,381.0 1022.0,376.0C1023.1,371.0 1024.3,363.5 1025.2,360.0C1026.1,356.5 1026.4,355.2 1027.2,355.2C1028.0,355.2 1029.1,357.2 1030.0,360.0C1030.9,362.8 1031.7,368.0 1032.4,372.0C1033.1,376.0 1033.3,380.2 1034.0,384.0C1034.7,387.8 1035.1,387.3 1036.5,395.0C1037.9,402.7 1040.5,418.8 1042.6,430.0C1044.7,441.2 1046.9,452.1 1049.0,462.0C1051.1,471.9 1053.5,482.5 1055.4,489.2C1057.3,495.9 1059.1,499.3 1060.2,502.0C1061.3,504.7 1061.3,505.0 1061.8,505.2C1062.3,505.4 1062.4,504.1 1063.3,503.2C1064.2,502.4 1065.5,501.0 1067.0,500.2C1068.5,499.4 1070.4,499.0 1072.6,498.4C1074.8,497.8 1077.9,497.1 1080.1,496.4C1082.3,495.7 1084.1,495.0 1085.6,494.2C1087.1,493.4 1088.1,493.2 1089.1,491.8C1090.1,490.5 1090.8,487.9 1091.6,486.1C1092.3,484.3 1092.8,483.2 1093.6,480.9C1094.4,478.7 1095.3,475.5 1096.3,472.7C1097.3,469.9 1098.4,467.3 1099.6,464.2C1100.8,461.1 1102.3,457.3 1103.6,454.0C1104.9,450.7 1105.9,448.1 1107.6,444.3C1109.3,440.6 1111.5,441.5 1113.6,431.5C1115.7,421.4 1117.6,398.6 1120.0,384.0C1122.4,369.4 1125.8,355.2 1128.0,344.0C1130.2,332.8 1131.5,326.8 1133.3,317.0C1135.1,307.2 1137.1,295.6 1138.7,285.0C1140.3,274.4 1140.9,263.0 1142.7,253.3C1144.5,243.6 1147.1,234.5 1149.3,226.7C1151.5,218.9 1154.0,212.0 1156.0,206.7C1158.0,201.4 1159.2,198.4 1161.0,195.0C1162.8,191.6 1165.0,187.3 1166.7,186.0C1168.4,184.7 1169.5,185.8 1171.0,187.0C1172.5,188.2 1173.8,187.8 1176.0,193.3C1178.2,198.8 1181.9,212.2 1184.0,220.0C1186.1,227.8 1187.4,234.4 1188.7,240.0C1190.0,245.6 1190.7,246.6 1192.0,253.3C1193.3,260.0 1194.4,267.6 1196.7,280.0C1199.0,292.4 1203.3,314.7 1206.0,328.0C1208.7,341.3 1210.5,348.9 1212.7,360.0C1214.9,371.1 1217.1,384.5 1219.3,394.7C1221.5,404.9 1224.3,417.9 1226.0,421.3C1227.7,424.7 1228.0,416.4 1229.6,415.4C1231.2,414.4 1233.6,416.3 1235.6,415.4C1237.6,414.5 1238.3,412.1 1241.6,410.0C1244.9,407.9 1251.3,402.8 1255.6,402.8C1259.9,402.8 1263.9,406.0 1267.6,410.0C1271.3,414.1 1274.6,421.8 1277.6,427.3C1280.6,432.7 1282.9,437.7 1285.6,442.7C1288.3,447.7 1291.6,453.0 1293.6,457.3C1295.6,461.5 1296.2,464.5 1297.6,468.2C1299.0,472.0 1300.5,476.9 1302.0,480.0C1303.5,483.0 1305.7,484.1 1306.8,486.6C1307.9,489.1 1308.0,492.0 1308.6,494.9C1309.2,497.8 1309.7,502.7 1310.4,503.9C1311.1,505.1 1312.0,503.0 1312.8,501.9C1313.6,500.8 1314.4,498.9 1315.2,497.3C1316.0,495.7 1316.8,494.1 1317.6,492.5C1318.4,490.9 1318.9,491.2 1320.0,487.9C1321.1,484.7 1322.9,477.1 1324.4,473.0C1325.9,468.9 1327.3,466.4 1329.2,463.1C1331.1,459.9 1333.2,456.2 1335.6,453.3C1338.0,450.5 1340.9,447.9 1343.6,446.3C1346.3,444.7 1348.7,443.7 1351.6,443.7C1354.5,443.7 1358.5,444.8 1361.2,446.3C1363.9,447.7 1365.2,449.7 1367.6,452.2C1370.0,454.7 1372.9,458.7 1375.6,461.4C1378.3,464.0 1381.2,466.6 1383.6,468.0C1386.0,469.5 1388.0,470.0 1390.0,470.3C1392.0,470.5 1393.6,470.2 1395.6,469.4C1397.6,468.6 1399.6,467.5 1402.0,465.5C1404.4,463.5 1407.3,459.9 1410.0,457.3C1412.7,454.6 1415.6,451.1 1418.0,449.6C1420.4,448.2 1422.0,448.2 1424.4,448.4C1426.8,448.6 1430.0,449.2 1432.4,450.8C1434.8,452.4 1437.2,456.1 1438.8,458.3C1440.4,460.4 1440.7,461.6 1442.0,463.8C1443.3,466.0 1445.5,469.0 1446.8,471.5C1448.1,474.0 1449.1,476.5 1450.0,478.8C1450.9,481.1 1451.8,482.8 1452.4,485.3C1453.0,487.8 1452.8,491.4 1453.6,493.7C1454.4,496.1 1456.4,498.4 1457.1,499.5C1457.8,500.6 1457.6,500.6 1458.0,500.5C1458.4,500.4 1459.0,499.9 1459.7,498.8C1460.4,497.7 1461.3,496.4 1462.3,493.7C1463.3,491.1 1464.1,486.3 1465.8,483.0C1467.5,479.6 1470.5,477.0 1472.4,473.5C1474.3,470.0 1475.6,465.3 1477.2,462.0C1478.8,458.8 1479.7,456.7 1482.0,454.0C1484.3,451.4 1488.0,447.3 1490.8,446.3C1493.6,445.2 1495.9,446.3 1498.8,447.5C1501.7,448.7 1505.7,452.2 1508.4,453.3C1511.1,454.5 1512.1,455.0 1514.8,454.4C1517.5,453.9 1520.4,451.7 1524.4,449.9C1528.4,448.1 1534.5,445.4 1538.8,443.7C1543.1,441.9 1547.2,441.6 1550.0,439.5C1552.8,437.5 1554.1,436.5 1555.6,431.5C1557.1,426.5 1558.1,409.3 1559.1,409.3C1560.1,409.3 1560.7,424.5 1561.6,431.5C1562.5,438.4 1563.4,447.1 1564.4,451.1C1565.4,455.1 1564.9,454.9 1567.6,455.5C1570.3,456.0 1575.1,454.3 1580.4,454.4C1585.7,454.6 1593.7,455.7 1599.6,456.5C1605.5,457.4 1610.3,458.5 1615.6,459.5C1620.9,460.4 1628.1,461.7 1631.6,462.3C1635.1,462.9 1635.6,463.0 1636.4,463.1" fill="none" stroke="#000" stroke-width="3.8" stroke-linecap="round" stroke-linejoin="round" clip-path="url(#cb)"/>
<path d="M938.9,121.0C939.2,122.8 939.9,126.7 941.0,132.0C942.1,137.3 943.8,145.6 945.6,152.8C947.4,160.0 949.9,168.5 952.0,175.2C954.1,181.9 956.4,187.7 958.4,192.8C960.4,197.9 962.4,203.2 964.0,205.6C965.6,208.0 966.5,208.3 968.0,207.2C969.5,206.1 971.3,205.1 972.8,199.2C974.3,193.3 975.6,181.9 976.8,172.0C978.0,162.1 979.1,149.3 980.0,140.0C980.9,130.7 981.7,123.3 982.4,116.0C983.1,108.7 983.5,107.0 984.0,96.0C984.5,85.0 985.1,64.3 985.6,50.0C986.1,35.7 986.3,28.3 986.8,10.0C987.3,-8.3 988.0,-45.0 988.5,-60.0C989.0,-75.0 989.5,-83.3 990.0,-80.0C990.5,-76.7 991.0,-56.1 991.5,-40.0C992.0,-23.9 992.5,-8.4 993.0,16.6C993.5,41.6 993.8,82.8 994.2,110.0C994.6,137.2 994.9,150.0 995.2,180.0C995.5,210.0 995.2,261.0 996.0,290.0C996.8,319.0 998.8,334.0 1000.0,354.0C1001.2,374.0 1002.2,398.3 1003.2,410.0C1004.2,421.7 1004.7,420.9 1005.8,424.4C1006.9,427.9 1008.1,429.8 1010.0,431.0C1011.9,432.2 1013.7,431.2 1017.0,431.6C1020.3,432.0 1026.3,433.5 1029.8,433.2C1033.3,432.9 1035.9,431.2 1037.8,430.0C1039.7,428.8 1039.8,429.3 1041.0,426.0C1042.2,422.7 1043.7,414.9 1045.0,410.0C1046.3,405.1 1047.9,396.4 1049.0,396.4C1050.1,396.4 1050.7,403.1 1051.5,410.0C1052.3,416.9 1052.9,426.7 1053.8,438.0C1054.7,449.3 1055.9,468.9 1057.0,478.0C1058.1,487.1 1058.9,489.5 1060.2,492.4C1061.5,495.3 1062.4,495.6 1065.0,495.6C1067.6,495.6 1072.0,492.9 1075.6,492.2C1079.1,491.4 1083.4,491.8 1086.3,491.1C1089.2,490.5 1091.1,489.3 1092.9,488.2C1094.7,487.2 1095.2,487.6 1096.9,484.8C1098.6,482.0 1101.1,475.9 1103.1,471.3C1105.1,466.7 1106.9,463.6 1108.9,457.3C1110.9,451.0 1113.1,445.3 1114.9,433.5C1116.8,421.7 1117.8,401.2 1120.0,386.7C1122.2,372.2 1125.8,357.8 1128.0,346.7C1130.2,335.6 1131.5,329.4 1133.3,320.0C1135.1,310.6 1136.9,299.7 1138.7,290.0C1140.5,280.3 1142.5,270.0 1144.0,262.0C1145.5,254.0 1146.5,250.1 1148.0,242.0C1149.5,233.9 1151.3,221.4 1153.3,213.3C1155.3,205.2 1157.9,198.5 1160.0,193.3C1162.1,188.1 1164.0,184.7 1166.0,182.0C1168.0,179.3 1170.0,177.5 1172.0,177.3C1174.0,177.1 1176.2,178.3 1178.0,181.0C1179.8,183.7 1180.8,186.8 1182.7,193.3C1184.6,199.8 1187.4,212.2 1189.3,220.0C1191.2,227.8 1192.7,234.4 1194.0,240.0C1195.3,245.6 1196.0,246.6 1197.3,253.3C1198.6,260.0 1199.7,267.6 1202.0,280.0C1204.3,292.4 1208.8,314.7 1211.3,328.0C1213.8,341.3 1214.7,348.9 1216.7,360.0C1218.7,371.1 1221.3,385.4 1223.3,394.7C1225.3,404.0 1227.3,411.7 1228.7,416.0C1230.1,420.3 1230.1,418.7 1231.6,420.4C1233.1,422.1 1234.9,425.4 1237.6,426.2C1240.3,426.9 1243.6,425.6 1247.6,425.0C1251.6,424.5 1257.3,422.0 1261.6,422.7C1265.9,423.5 1270.3,426.7 1273.6,429.4C1276.9,432.1 1279.3,436.8 1281.6,439.2C1283.9,441.5 1285.0,440.3 1287.6,443.5C1290.2,446.7 1294.5,453.9 1297.2,458.5C1299.9,463.1 1301.7,467.4 1303.6,471.0C1305.5,474.5 1307.1,477.4 1308.4,480.0C1309.7,482.6 1310.5,483.9 1311.6,486.6C1312.7,489.2 1314.2,493.9 1315.2,495.9C1316.2,497.9 1317.0,498.0 1317.6,498.5C1318.2,499.0 1318.4,499.1 1318.8,499.1C1319.2,499.1 1319.2,499.6 1320.0,498.5C1320.8,497.4 1322.6,494.3 1323.6,492.5C1324.6,490.7 1324.8,490.0 1326.0,487.9C1327.2,485.9 1329.2,483.0 1330.8,480.0C1332.4,476.9 1333.7,473.1 1335.6,469.5C1337.5,466.0 1339.9,461.6 1342.0,458.5C1344.1,455.4 1346.3,452.5 1348.4,451.1C1350.5,449.7 1352.4,449.4 1354.8,449.9C1357.2,450.5 1360.1,452.2 1362.8,454.4C1365.5,456.6 1368.4,460.6 1370.8,463.1C1373.2,465.7 1374.9,467.6 1377.2,469.5C1379.5,471.5 1381.9,473.7 1384.4,474.8C1386.9,475.8 1389.7,476.1 1392.4,476.0C1395.1,475.9 1398.1,474.8 1400.4,474.1C1402.7,473.5 1403.9,473.6 1406.0,472.2C1408.1,470.7 1410.7,468.1 1413.2,465.5C1415.7,462.8 1418.5,459.2 1421.2,456.3C1423.9,453.3 1426.8,448.9 1429.2,447.8C1431.6,446.7 1433.5,448.1 1435.6,449.6C1437.7,451.2 1440.1,454.5 1442.0,457.3C1443.9,460.1 1445.5,463.6 1446.8,466.3C1448.1,469.0 1448.9,470.7 1450.0,473.5C1451.1,476.3 1452.2,479.4 1453.2,483.0C1454.2,486.6 1455.4,492.5 1456.3,495.0C1457.3,497.4 1458.3,497.1 1458.9,497.6C1459.5,498.2 1459.5,498.4 1460.1,498.1C1460.7,497.9 1461.5,497.3 1462.3,496.1C1463.1,494.9 1463.9,493.1 1464.9,490.9C1465.9,488.7 1467.4,485.4 1468.4,483.0C1469.4,480.6 1469.3,479.6 1470.8,476.6C1472.3,473.5 1474.9,469.0 1477.2,464.6C1479.5,460.3 1481.9,453.6 1484.4,450.5C1486.9,447.5 1489.7,446.6 1492.4,446.3C1495.1,446.0 1497.5,447.2 1500.4,448.7C1503.3,450.3 1507.6,454.2 1510.0,455.5C1512.4,456.8 1513.2,456.5 1514.8,456.5C1516.4,456.5 1516.7,456.8 1519.6,455.5C1522.5,454.2 1528.1,451.2 1532.4,448.7C1536.7,446.3 1542.0,443.2 1545.2,440.9C1548.4,438.7 1549.7,436.8 1551.6,435.1C1553.5,433.3 1554.9,429.5 1556.4,430.2C1557.9,431.0 1559.3,434.7 1560.4,439.5C1561.5,444.4 1561.6,456.5 1562.8,459.5C1564.0,462.5 1564.7,458.2 1567.6,457.5C1570.5,456.9 1575.1,455.5 1580.4,455.5C1585.7,455.5 1593.7,456.6 1599.6,457.5C1605.5,458.5 1610.3,460.1 1615.6,461.4C1620.9,462.6 1628.1,464.1 1631.6,464.9C1635.1,465.6 1635.6,465.6 1636.4,465.8" fill="none" stroke="#cc0000" stroke-width="2.6" stroke-linecap="round" stroke-linejoin="round" clip-path="url(#cb)"/>
<path d="M939.3,-20.9C940.7,-17.7 945.8,-1.8 947.6,-1.6C949.4,-1.5 948.5,-24.1 950.0,-20.0C951.5,-15.9 955.0,13.8 956.5,23.0C958.0,32.2 958.4,31.2 959.0,35.0C959.6,38.8 959.8,42.3 960.3,46.0C960.8,49.7 961.5,53.2 962.0,57.0C962.5,60.8 963.0,65.2 963.5,69.0C964.0,72.8 964.6,76.2 965.0,80.0C965.4,83.8 965.6,87.8 966.0,92.0C966.4,96.2 966.6,98.3 967.2,105.0C967.8,111.7 968.8,123.7 969.5,132.0C970.2,140.3 970.8,149.2 971.3,155.0C971.8,160.8 972.4,162.3 972.8,167.0C973.2,171.7 973.3,178.0 973.6,183.0C973.9,188.0 974.0,191.5 974.4,197.0C974.8,202.5 975.3,207.2 976.0,216.0C976.7,224.8 977.4,236.0 978.5,250.0C979.6,264.0 980.8,285.3 982.4,300.0C984.0,314.7 986.7,327.7 988.0,338.0C989.3,348.3 989.5,354.0 990.4,362.0C991.3,370.0 992.8,379.7 993.6,386.0C994.4,392.3 994.5,391.0 995.0,400.0C995.5,409.0 996.3,430.2 996.9,439.8C997.6,449.3 998.1,452.2 998.9,457.3C999.7,462.4 1000.9,467.3 1001.6,470.5C1002.3,473.7 1002.4,474.6 1002.9,476.6C1003.5,478.6 1004.3,481.4 1004.9,482.6C1005.5,483.8 1005.8,484.8 1006.6,483.8C1007.4,482.8 1008.8,479.8 1009.6,476.6C1010.4,473.3 1010.9,467.4 1011.6,464.2C1012.3,461.0 1012.6,463.3 1013.6,457.3C1014.6,451.3 1016.1,440.2 1017.6,428.3C1019.1,416.5 1021.1,396.9 1022.6,386.2C1024.1,375.4 1025.3,368.7 1026.6,363.8C1027.9,358.8 1029.1,356.7 1030.3,356.7C1031.5,356.7 1032.5,358.8 1033.6,363.8C1034.6,368.7 1035.4,377.3 1036.6,386.2C1037.8,395.0 1039.4,407.2 1040.6,416.7C1041.8,426.1 1042.6,434.9 1043.6,442.7C1044.6,450.4 1045.6,457.5 1046.6,463.1C1047.6,468.8 1048.8,473.3 1049.6,476.6C1050.4,479.9 1050.8,481.2 1051.6,483.0C1052.4,484.8 1053.4,486.0 1054.2,487.5C1055.0,489.0 1055.7,490.6 1056.6,491.8C1057.5,493.1 1058.8,494.1 1059.6,494.9C1060.4,495.7 1060.9,496.1 1061.6,496.5C1062.3,496.9 1062.9,497.5 1063.6,497.1C1064.3,496.6 1064.8,494.9 1065.9,493.9C1067.0,492.9 1069.2,491.9 1070.3,490.9C1071.4,490.0 1071.5,489.0 1072.5,487.9C1073.5,486.8 1074.9,485.8 1076.2,484.3C1077.5,482.8 1078.9,480.5 1080.6,479.0C1082.3,477.5 1084.3,477.0 1086.3,475.1C1088.2,473.2 1090.3,470.2 1092.3,467.6C1094.3,465.1 1096.6,463.3 1098.3,459.7C1100.0,456.1 1101.1,450.3 1102.3,445.9C1103.5,441.6 1104.9,434.5 1105.6,433.5C1106.3,432.5 1104.8,447.8 1106.7,440.0C1108.7,432.2 1114.2,402.2 1117.3,386.7C1120.4,371.1 1122.8,362.3 1125.3,346.7C1127.8,331.1 1129.3,308.9 1132.0,293.3C1134.7,277.7 1138.8,263.3 1141.3,253.3C1143.8,243.3 1144.8,238.5 1146.7,233.3C1148.7,228.1 1150.8,225.2 1153.0,222.0C1155.2,218.8 1158.0,215.8 1160.0,214.0C1162.0,212.2 1163.3,210.8 1165.0,211.0C1166.7,211.2 1168.4,212.6 1170.0,215.0C1171.6,217.4 1172.6,220.5 1174.7,225.3C1176.8,230.1 1180.7,238.9 1182.7,244.0C1184.7,249.1 1184.8,247.8 1186.7,256.0C1188.6,264.2 1191.0,278.2 1194.0,293.3C1197.0,308.4 1201.4,331.1 1204.7,346.7C1208.0,362.3 1210.9,374.3 1214.0,386.7C1217.1,399.1 1221.0,415.3 1223.3,421.3C1225.6,427.3 1225.2,423.7 1227.6,422.7C1230.0,421.8 1234.6,418.0 1237.6,415.4C1240.6,412.8 1243.1,406.8 1245.6,407.2C1248.1,407.6 1250.3,414.2 1252.6,417.9C1254.9,421.6 1257.4,425.6 1259.6,429.4C1261.8,433.2 1263.6,437.4 1265.6,440.9C1267.6,444.5 1269.9,447.8 1271.6,450.5C1273.3,453.2 1274.3,455.2 1275.6,457.3C1276.9,459.4 1278.1,461.4 1279.6,463.1C1281.1,464.9 1282.5,466.0 1284.4,467.8C1286.3,469.5 1288.9,470.7 1290.8,473.5C1292.7,476.3 1294.3,482.1 1295.6,484.6C1296.9,487.1 1297.8,486.9 1298.8,488.4C1299.8,489.9 1300.6,492.0 1301.6,493.4C1302.6,494.9 1303.8,496.3 1304.6,497.3C1305.4,498.2 1305.9,499.2 1306.6,499.2C1307.3,499.2 1307.8,498.5 1308.6,497.3C1309.4,496.1 1310.4,493.8 1311.6,491.8C1312.8,489.9 1314.3,487.9 1315.6,485.6C1316.9,483.4 1317.9,481.5 1319.6,478.3C1321.3,475.1 1323.9,470.3 1326.0,466.5C1328.1,462.7 1330.3,457.9 1332.4,455.5C1334.5,453.1 1336.5,452.7 1338.6,451.9C1340.7,451.2 1343.2,450.6 1345.2,451.1C1347.2,451.6 1349.0,453.5 1350.6,454.7C1352.2,455.9 1353.6,457.0 1354.8,458.5C1356.0,460.1 1356.5,462.2 1358.0,464.0C1359.5,465.8 1361.5,467.6 1363.6,469.2C1365.7,470.8 1368.5,472.7 1370.8,473.7C1373.1,474.6 1374.4,475.1 1377.2,474.9C1380.0,474.8 1384.2,474.2 1387.6,472.7C1391.0,471.2 1394.3,468.6 1397.6,465.8C1400.9,463.0 1404.3,458.7 1407.6,456.0C1410.9,453.3 1414.1,449.7 1417.6,449.8C1421.1,449.8 1425.7,453.7 1428.4,456.3C1431.1,458.8 1432.1,462.2 1433.6,465.3C1435.1,468.3 1436.5,471.6 1437.6,474.7C1438.7,477.8 1439.6,481.5 1440.4,484.1C1441.2,486.6 1441.7,488.0 1442.6,490.0C1443.5,492.0 1444.8,494.7 1445.6,496.2C1446.4,497.6 1446.8,498.8 1447.6,498.8C1448.4,498.8 1449.4,497.6 1450.6,496.2C1451.8,494.7 1453.6,493.6 1454.8,490.0C1456.0,486.4 1456.8,479.7 1458.0,474.8C1459.2,469.8 1460.7,464.5 1462.0,460.3C1463.3,456.1 1464.4,453.5 1466.0,449.6C1467.6,445.8 1468.9,441.5 1471.6,437.3C1474.3,433.2 1478.5,425.5 1482.0,424.6C1485.5,423.7 1489.1,428.5 1492.4,431.9C1495.7,435.3 1499.1,443.0 1502.0,445.0C1504.9,446.9 1507.1,446.1 1510.0,443.7C1512.9,441.2 1516.1,434.6 1519.6,430.2C1523.1,425.9 1527.6,421.0 1530.8,417.4C1534.0,413.9 1535.9,408.3 1538.8,408.9C1541.7,409.6 1546.3,417.5 1548.4,421.3C1550.5,425.2 1550.4,428.3 1551.6,431.9C1552.8,435.5 1554.5,439.3 1555.6,442.7C1556.7,446.1 1555.5,450.5 1558.0,452.2C1560.5,454.0 1564.1,453.5 1570.8,453.3C1577.5,453.2 1591.9,451.3 1598.0,451.1C1604.1,450.9 1603.9,451.9 1607.6,452.2C1611.3,452.6 1616.4,453.1 1620.4,453.3C1624.4,453.6 1628.9,453.6 1631.6,453.9C1634.3,454.2 1635.6,455.1 1636.4,455.4" fill="none" stroke="#000" stroke-width="2.4" stroke-linecap="round" stroke-linejoin="round" stroke-dasharray="8.5 8.8 0.1 5.15" clip-path="url(#cb)"/>
<path d="M939.3,-101.4C939.8,-86.1 941.0,-30.7 942.0,-10.0C943.0,10.7 944.7,15.8 945.6,23.0C946.5,30.2 946.5,29.2 947.5,33.0C948.5,36.8 950.5,42.2 951.4,46.0C952.2,49.8 951.9,51.7 952.6,56.0C953.3,60.3 954.5,66.4 955.5,72.0C956.5,77.6 957.5,84.2 958.4,89.5C959.2,94.8 959.9,98.5 960.6,104.0C961.3,109.5 961.7,116.4 962.4,122.4C963.1,128.4 964.3,134.4 965.0,140.0C965.7,145.6 965.6,150.3 966.4,156.0C967.2,161.7 968.8,168.4 969.6,174.0C970.4,179.6 970.5,184.1 971.2,189.6C971.9,195.1 972.7,199.3 973.6,207.0C974.5,214.7 976.0,227.7 976.8,236.0C977.6,244.3 977.6,247.7 978.4,256.8C979.2,265.9 980.7,280.2 981.6,290.4C982.5,300.6 982.9,310.1 984.0,318.0C985.1,325.9 986.9,330.7 988.0,338.0C989.1,345.3 989.5,354.0 990.4,362.0C991.3,370.0 992.5,378.8 993.6,386.0C994.7,393.2 996.0,399.0 996.8,405.0C997.6,411.0 997.9,413.8 998.6,422.0C999.3,430.2 999.9,445.2 1001.0,454.0C1002.1,462.8 1003.7,469.0 1005.0,475.0C1006.3,481.0 1007.8,486.5 1009.0,490.0C1010.2,493.5 1011.0,497.7 1012.0,496.0C1013.0,494.3 1013.9,487.0 1015.0,480.0C1016.1,473.0 1017.7,462.3 1018.6,454.0C1019.5,445.7 1019.7,438.0 1020.2,430.0C1020.7,422.0 1021.4,414.3 1021.8,406.0C1022.2,397.7 1022.0,391.0 1022.4,380.0C1022.8,369.0 1023.6,353.3 1024.0,340.0C1024.4,326.7 1024.6,315.0 1025.0,300.0C1025.4,285.0 1026.2,264.2 1026.6,250.0C1027.0,235.8 1027.1,224.8 1027.5,215.0C1027.9,205.2 1028.4,193.5 1029.0,191.0C1029.6,188.5 1030.3,193.5 1031.0,200.0C1031.7,206.5 1032.5,215.0 1033.0,230.0C1033.5,245.0 1033.6,273.3 1034.0,290.0C1034.4,306.7 1034.7,319.2 1035.2,330.0C1035.7,340.8 1036.3,348.2 1036.8,355.0C1037.3,361.8 1037.7,365.2 1038.0,371.0C1038.3,376.8 1038.5,384.3 1038.8,390.0C1039.1,395.7 1039.4,400.2 1040.0,405.0C1040.6,409.8 1041.6,413.6 1042.3,418.8C1043.0,424.0 1043.4,428.7 1044.3,436.1C1045.2,443.5 1046.5,455.8 1047.6,463.1C1048.6,470.5 1049.7,475.9 1050.6,480.0C1051.5,484.1 1052.1,485.7 1052.9,487.7C1053.7,489.6 1054.8,490.7 1055.6,491.6C1056.4,492.5 1057.0,492.8 1057.6,493.1C1058.2,493.5 1058.7,493.7 1059.4,493.7C1060.1,493.7 1060.9,493.5 1061.6,493.1C1062.3,492.7 1062.9,492.2 1063.7,491.3C1064.5,490.4 1065.7,489.1 1066.6,487.9C1067.5,486.8 1068.0,485.4 1068.9,484.3C1069.8,483.3 1070.7,482.7 1071.8,481.8C1072.9,481.0 1073.9,479.9 1075.5,479.3C1077.1,478.8 1079.6,478.7 1081.6,478.7C1083.6,478.7 1085.7,479.1 1087.6,479.3C1089.5,479.5 1091.8,480.3 1093.1,479.8C1094.4,479.4 1094.5,478.9 1095.6,476.6C1096.7,474.2 1098.3,469.3 1099.6,465.8C1100.9,462.2 1102.3,459.1 1103.6,455.4C1104.9,451.6 1106.6,446.1 1107.6,443.5C1108.5,440.9 1107.2,449.5 1109.3,440.0C1111.4,430.5 1117.3,399.1 1120.0,386.7C1122.7,374.2 1124.0,372.0 1125.3,365.3C1126.6,358.6 1126.7,354.2 1128.0,346.7C1129.3,339.1 1131.5,329.4 1133.3,320.0C1135.1,310.6 1136.9,299.7 1138.7,290.0C1140.5,280.3 1142.2,271.4 1144.0,262.0C1145.8,252.6 1147.1,242.5 1149.3,233.3C1151.5,224.1 1154.8,212.5 1157.3,206.7C1159.8,200.9 1161.7,199.6 1164.0,198.7C1166.3,197.8 1169.1,199.3 1171.3,201.3C1173.5,203.3 1175.4,207.1 1177.3,210.7C1179.2,214.3 1181.2,219.0 1182.7,222.7C1184.2,226.4 1184.6,228.5 1186.0,232.7C1187.4,236.9 1188.8,238.1 1191.0,248.0C1193.2,257.9 1197.0,279.7 1199.3,292.0C1201.6,304.3 1202.5,310.0 1205.0,322.0C1207.5,334.0 1211.0,350.3 1214.0,364.0C1217.0,377.7 1220.6,393.8 1223.3,404.0C1226.0,414.2 1228.3,421.1 1230.0,425.0C1231.7,428.9 1230.5,427.3 1233.6,427.3C1236.7,427.3 1243.9,423.7 1248.6,425.0C1253.3,426.4 1258.1,431.5 1261.6,435.5C1265.1,439.4 1267.7,446.2 1269.6,449.0C1271.5,451.8 1271.9,450.9 1273.2,452.2C1274.5,453.6 1275.2,455.5 1277.6,457.3C1280.0,459.1 1285.1,461.2 1287.6,463.1C1290.1,465.0 1291.2,467.0 1292.4,468.7C1293.6,470.4 1293.6,471.6 1294.8,473.3C1296.0,475.1 1298.3,477.5 1299.6,479.3C1300.9,481.1 1301.9,482.8 1302.8,484.2C1303.7,485.6 1304.4,486.4 1305.2,487.7C1306.0,489.0 1306.7,490.7 1307.6,491.8C1308.5,493.0 1309.8,494.1 1310.6,494.6C1311.4,495.2 1311.8,495.6 1312.6,495.1C1313.4,494.7 1314.4,493.4 1315.6,491.8C1316.8,490.2 1318.3,487.6 1319.6,485.6C1320.9,483.6 1322.5,481.4 1323.6,480.0C1324.7,478.6 1324.7,479.1 1326.0,477.3C1327.3,475.5 1329.5,472.0 1331.6,469.2C1333.7,466.4 1336.5,462.0 1338.8,460.4C1341.1,458.8 1343.4,459.5 1345.2,459.5C1347.0,459.5 1348.1,459.8 1349.6,460.3C1351.1,460.9 1352.3,461.5 1354.0,462.7C1355.7,463.9 1357.7,465.9 1359.6,467.3C1361.5,468.7 1362.8,469.7 1365.2,471.0C1367.6,472.2 1371.3,474.6 1374.0,474.9C1376.7,475.2 1378.7,474.1 1381.6,472.7C1384.5,471.2 1387.9,468.5 1391.6,466.3C1395.3,464.0 1400.3,461.5 1403.6,459.3C1406.9,457.0 1408.8,454.6 1411.6,452.7C1414.4,450.7 1417.7,448.2 1420.4,447.8C1423.1,447.5 1425.4,448.4 1427.6,450.5C1429.8,452.6 1431.8,457.2 1433.6,460.3C1435.4,463.4 1437.1,466.8 1438.6,469.2C1440.1,471.6 1441.4,472.6 1442.8,474.8C1444.2,477.0 1445.7,480.2 1446.8,482.4C1447.9,484.6 1448.6,486.5 1449.6,487.9C1450.6,489.4 1452.0,490.3 1452.8,490.9C1453.6,491.6 1454.0,492.2 1454.6,491.8C1455.2,491.5 1455.9,490.1 1456.6,489.0C1457.3,487.9 1458.3,486.5 1458.9,485.1C1459.5,483.7 1459.6,482.3 1460.4,480.6C1461.2,478.9 1462.7,476.7 1463.6,474.7C1464.5,472.6 1465.1,470.9 1466.0,468.2C1466.9,465.5 1467.7,461.9 1469.2,458.5C1470.7,455.1 1472.7,450.8 1474.8,447.8C1476.9,444.8 1479.6,441.7 1482.0,440.6C1484.4,439.4 1486.6,439.9 1489.2,440.9C1491.8,442.0 1494.7,445.0 1497.6,446.7C1500.5,448.4 1504.2,451.2 1506.8,451.1C1509.4,451.0 1511.1,448.4 1513.2,446.3C1515.3,444.1 1516.4,441.9 1519.6,438.1C1522.8,434.2 1528.4,428.6 1532.4,423.2C1536.4,417.8 1540.7,407.9 1543.6,405.5C1546.5,403.1 1548.4,406.3 1550.0,408.9C1551.6,411.6 1552.1,417.8 1553.2,421.3C1554.3,424.9 1555.5,427.3 1556.4,430.2C1557.3,433.2 1556.9,436.1 1558.8,438.8C1560.7,441.5 1564.6,444.1 1567.6,446.3C1570.6,448.5 1571.5,449.8 1576.6,451.9C1581.7,454.1 1592.4,457.3 1598.0,459.0C1603.6,460.7 1606.8,461.4 1610.4,462.3C1614.0,463.2 1616.9,463.9 1619.6,464.5C1622.3,465.1 1624.6,465.5 1626.6,466.0C1628.6,466.5 1630.3,467.0 1631.6,467.5C1632.8,468.0 1633.3,468.3 1634.1,469.2C1634.9,470.0 1636.0,472.1 1636.4,472.7" fill="none" stroke="#cc0000" stroke-width="4.6" stroke-linecap="round" stroke-linejoin="round" stroke-dasharray="11.3 10.7 0.1 11.1" clip-path="url(#cb)"/>
<g clip-path="url(#cb)"><rect x="933.2" y="49.7" width="12.6" height="12.6" fill="#000"/><rect x="966.8" y="130.2" width="12.6" height="12.6" fill="#000"/><rect x="996.7" y="414.7" width="12.6" height="12.6" fill="#000"/><rect x="1031.7" y="397.1" width="12.6" height="12.6" fill="#000"/><rect x="1064.1" y="492.8" width="12.6" height="12.6" fill="#000"/><rect x="1096.5" y="449.8" width="12.6" height="12.6" fill="#000"/><rect x="1128.4" y="307.0" width="12.6" height="12.6" fill="#000"/><rect x="1161.3" y="179.9" width="12.6" height="12.6" fill="#000"/><rect x="1193.8" y="291.0" width="12.6" height="12.6" fill="#000"/><rect x="1226.2" y="409.1" width="12.6" height="12.6" fill="#000"/><rect x="1258.6" y="402.1" width="12.6" height="12.6" fill="#000"/><rect x="1291.0" y="461.2" width="12.6" height="12.6" fill="#000"/><rect x="1323.4" y="456.0" width="12.6" height="12.6" fill="#000"/><rect x="1355.9" y="440.9" width="12.6" height="12.6" fill="#000"/><rect x="1388.3" y="463.2" width="12.6" height="12.6" fill="#000"/><rect x="1420.7" y="442.9" width="12.6" height="12.6" fill="#000"/><rect x="1453.1" y="492.8" width="12.6" height="12.6" fill="#000"/><rect x="1485.5" y="440.1" width="12.6" height="12.6" fill="#000"/><rect x="1518.0" y="443.7" width="12.6" height="12.6" fill="#000"/><rect x="1550.4" y="418.4" width="12.6" height="12.6" fill="#000"/><rect x="1582.8" y="449.1" width="12.6" height="12.6" fill="#000"/><rect x="1615.2" y="454.2" width="12.6" height="12.6" fill="#000"/><circle cx="939.2" cy="124.5" r="6.5" fill="#cc0000"/><circle cx="972.8" cy="199.2" r="6.5" fill="#cc0000"/><circle cx="1005.8" cy="424.4" r="6.5" fill="#cc0000"/><circle cx="1041.0" cy="426.0" r="6.5" fill="#cc0000"/><circle cx="1076.9" cy="492.0" r="6.5" fill="#cc0000"/><circle cx="1111.0" cy="449.0" r="6.5" fill="#cc0000"/><circle cx="1141.8" cy="274.7" r="6.5" fill="#cc0000"/><circle cx="1179.1" cy="183.9" r="6.5" fill="#cc0000"/><circle cx="1211.3" cy="332.0" r="6.5" fill="#cc0000"/><circle cx="1247.2" cy="425.1" r="6.5" fill="#cc0000"/><circle cx="1281.3" cy="438.8" r="6.5" fill="#cc0000"/><circle cx="1315.4" cy="496.1" r="6.5" fill="#cc0000"/><circle cx="1349.4" cy="450.9" r="6.5" fill="#cc0000"/><circle cx="1383.5" cy="474.1" r="6.5" fill="#cc0000"/><circle cx="1417.5" cy="460.5" r="6.5" fill="#cc0000"/><circle cx="1451.6" cy="478.2" r="6.5" fill="#cc0000"/><circle cx="1485.7" cy="449.8" r="6.5" fill="#cc0000"/><circle cx="1519.7" cy="455.4" r="6.5" fill="#cc0000"/><circle cx="1553.8" cy="432.9" r="6.5" fill="#cc0000"/><circle cx="1587.8" cy="456.3" r="6.5" fill="#cc0000"/><circle cx="1621.9" cy="462.7" r="6.5" fill="#cc0000"/><polygon points="938.7,-29.9 946.7,-15.9 930.7,-15.9" fill="#000"/><polygon points="971.3,145.5 979.3,159.5 963.3,159.5" fill="#000"/><polygon points="1003.8,470.3 1011.8,484.3 995.8,484.3" fill="#000"/><polygon points="1036.4,375.5 1044.4,389.5 1028.4,389.5" fill="#000"/><polygon points="1068.9,482.9 1076.9,496.9 1060.9,496.9" fill="#000"/><polygon points="1101.5,439.7 1109.5,453.7 1093.5,453.7" fill="#000"/><polygon points="1134.1,275.4 1142.1,289.4 1126.1,289.4" fill="#000"/><polygon points="1166.6,203.3 1174.6,217.3 1158.6,217.3" fill="#000"/><polygon points="1196.7,303.0 1204.7,317.0 1188.7,317.0" fill="#000"/><polygon points="1231.7,410.7 1239.7,424.7 1223.7,424.7" fill="#000"/><polygon points="1264.3,429.4 1272.3,443.4 1256.3,443.4" fill="#000"/><polygon points="1296.9,477.1 1304.9,491.1 1288.9,491.1" fill="#000"/><polygon points="1329.4,451.6 1337.4,465.6 1321.4,465.6" fill="#000"/><polygon points="1362.0,458.7 1370.0,472.7 1354.0,472.7" fill="#000"/><polygon points="1394.5,458.9 1402.5,472.9 1386.5,472.9" fill="#000"/><polygon points="1427.1,446.5 1435.1,460.5 1419.1,460.5" fill="#000"/><polygon points="1459.7,459.8 1467.7,473.8 1451.7,473.8" fill="#000"/><polygon points="1492.2,422.8 1500.2,436.8 1484.2,436.8" fill="#000"/><polygon points="1524.8,415.3 1532.8,429.3 1516.8,429.3" fill="#000"/><polygon points="1557.3,440.6 1565.3,454.6 1549.3,454.6" fill="#000"/><polygon points="1589.9,442.8 1597.9,456.8 1581.9,456.8" fill="#000"/><polygon points="1622.5,444.4 1630.5,458.4 1614.5,458.4" fill="#000"/><polygon points="939.7,-78.8 947.7,-92.8 931.7,-92.8" fill="#cc0000"/><polygon points="976.9,246.0 984.9,232.0 968.9,232.0" fill="#cc0000"/><polygon points="1012.4,504.0 1020.4,490.0 1004.4,490.0" fill="#cc0000"/><polygon points="1051.2,491.1 1059.2,477.1 1043.2,477.1" fill="#cc0000"/><polygon points="1088.4,488.4 1096.4,474.4 1080.4,474.4" fill="#cc0000"/><polygon points="1125.6,372.2 1133.6,358.2 1117.6,358.2" fill="#cc0000"/><polygon points="1162.8,209.2 1170.8,195.2 1154.8,195.2" fill="#cc0000"/><polygon points="1200.0,304.5 1208.0,290.5 1192.0,290.5" fill="#cc0000"/><polygon points="1237.1,435.7 1245.1,421.7 1229.1,421.7" fill="#cc0000"/><polygon points="1274.3,462.5 1282.3,448.5 1266.3,448.5" fill="#cc0000"/><polygon points="1311.5,503.9 1319.5,489.9 1303.5,489.9" fill="#cc0000"/><polygon points="1348.7,469.1 1356.7,455.1 1340.7,455.1" fill="#cc0000"/><polygon points="1385.9,479.0 1393.9,465.0 1377.9,465.0" fill="#cc0000"/><polygon points="1423.0,457.8 1431.0,443.8 1415.0,443.8" fill="#cc0000"/><polygon points="1460.2,490.1 1468.2,476.1 1452.2,476.1" fill="#cc0000"/><polygon points="1497.4,455.6 1505.4,441.6 1489.4,441.6" fill="#cc0000"/><polygon points="1534.6,428.8 1542.6,414.8 1526.6,414.8" fill="#cc0000"/><polygon points="1571.8,457.9 1579.8,443.9 1563.8,443.9" fill="#cc0000"/><polygon points="1608.9,470.9 1616.9,456.9 1600.9,456.9" fill="#cc0000"/></g>
<rect x="107.3" y="16.4" width="697.5" height="572.5" fill="none" stroke="#000" stroke-width="4"/>
<line x1="96.3" y1="16.4" x2="107.3" y2="16.4" stroke="#000" stroke-width="4"/>
<text x="89.5" y="28.4" text-anchor="end" font-size="36" style="font-family:'Liberation Serif',serif;font-weight:bold">0</text>
<line x1="96.3" y1="120.5" x2="107.3" y2="120.5" stroke="#000" stroke-width="4"/>
<text x="89.5" y="132.5" text-anchor="end" font-size="36" style="font-family:'Liberation Serif',serif;font-weight:bold">-10</text>
<line x1="96.3" y1="224.6" x2="107.3" y2="224.6" stroke="#000" stroke-width="4"/>
<text x="89.5" y="236.6" text-anchor="end" font-size="36" style="font-family:'Liberation Serif',serif;font-weight:bold">-20</text>
<line x1="96.3" y1="328.7" x2="107.3" y2="328.7" stroke="#000" stroke-width="4"/>
<text x="89.5" y="340.7" text-anchor="end" font-size="36" style="font-family:'Liberation Serif',serif;font-weight:bold">-30</text>
<line x1="96.3" y1="432.8" x2="107.3" y2="432.8" stroke="#000" stroke-width="4"/>
<text x="89.5" y="444.8" text-anchor="end" font-size="36" style="font-family:'Liberation Serif',serif;font-weight:bold">-40</text>
<line x1="96.3" y1="536.9" x2="107.3" y2="536.9" stroke="#000" stroke-width="4"/>
<text x="89.5" y="548.9" text-anchor="end" font-size="36" style="font-family:'Liberation Serif',serif;font-weight:bold">-50</text>
<line x1="101.3" y1="68.4" x2="107.3" y2="68.4" stroke="#000" stroke-width="3.5"/>
<line x1="101.3" y1="172.5" x2="107.3" y2="172.5" stroke="#000" stroke-width="3.5"/>
<line x1="101.3" y1="276.6" x2="107.3" y2="276.6" stroke="#000" stroke-width="3.5"/>
<line x1="101.3" y1="380.7" x2="107.3" y2="380.7" stroke="#000" stroke-width="3.5"/>
<line x1="101.3" y1="484.8" x2="107.3" y2="484.8" stroke="#000" stroke-width="3.5"/>
<line x1="101.3" y1="588.9" x2="107.3" y2="588.9" stroke="#000" stroke-width="3.5"/>
<line x1="107.3" y1="588.9" x2="107.3" y2="599.9" stroke="#000" stroke-width="4"/>
<text x="107.3" y="635.5" text-anchor="middle" font-size="36" style="font-family:'Liberation Serif',serif;font-weight:bold">20</text>
<line x1="246.8" y1="588.9" x2="246.8" y2="599.9" stroke="#000" stroke-width="4"/>
<text x="246.8" y="635.5" text-anchor="middle" font-size="36" style="font-family:'Liberation Serif',serif;font-weight:bold">25</text>
<line x1="386.3" y1="588.9" x2="386.3" y2="599.9" stroke="#000" stroke-width="4"/>
<text x="386.3" y="635.5" text-anchor="middle" font-size="36" style="font-family:'Liberation Serif',serif;font-weight:bold">30</text>
<line x1="525.8" y1="588.9" x2="525.8" y2="599.9" stroke="#000" stroke-width="4"/>
<text x="525.8" y="635.5" text-anchor="middle" font-size="36" style="font-family:'Liberation Serif',serif;font-weight:bold">35</text>
<line x1="665.3" y1="588.9" x2="665.3" y2="599.9" stroke="#000" stroke-width="4"/>
<text x="665.3" y="635.5" text-anchor="middle" font-size="36" style="font-family:'Liberation Serif',serif;font-weight:bold">40</text>
<line x1="804.8" y1="588.9" x2="804.8" y2="599.9" stroke="#000" stroke-width="4"/>
<text x="804.8" y="635.5" text-anchor="middle" font-size="36" style="font-family:'Liberation Serif',serif;font-weight:bold">45</text>
<line x1="177.1" y1="588.9" x2="177.1" y2="594.9" stroke="#000" stroke-width="3.5"/>
<line x1="316.6" y1="588.9" x2="316.6" y2="594.9" stroke="#000" stroke-width="3.5"/>
<line x1="456.1" y1="588.9" x2="456.1" y2="594.9" stroke="#000" stroke-width="3.5"/>
<line x1="595.5" y1="588.9" x2="595.5" y2="594.9" stroke="#000" stroke-width="3.5"/>
<line x1="735.0" y1="588.9" x2="735.0" y2="594.9" stroke="#000" stroke-width="3.5"/>
<g transform="translate(456.0,692.2) scale(1.026,1)"><text x="0" y="0" text-anchor="middle" font-size="33.7" style="font-family:'Liberation Serif',serif;font-weight:bold">Frequency (GHz)</text></g>
<rect x="938.9" y="16.3" width="697.8" height="572.2" fill="none" stroke="#000" stroke-width="4"/>
<line x1="927.9" y1="16.3" x2="938.9" y2="16.3" stroke="#000" stroke-width="4"/>
<text x="920.0" y="28.3" text-anchor="end" font-size="36" style="font-family:'Liberation Serif',serif;font-weight:bold">4.0</text>
<line x1="927.9" y1="98.0" x2="938.9" y2="98.0" stroke="#000" stroke-width="4"/>
<text x="920.0" y="110.0" text-anchor="end" font-size="36" style="font-family:'Liberation Serif',serif;font-weight:bold">3.5</text>
<line x1="927.9" y1="179.8" x2="938.9" y2="179.8" stroke="#000" stroke-width="4"/>
<text x="920.0" y="191.8" text-anchor="end" font-size="36" style="font-family:'Liberation Serif',serif;font-weight:bold">3.0</text>
<line x1="927.9" y1="261.5" x2="938.9" y2="261.5" stroke="#000" stroke-width="4"/>
<text x="920.0" y="273.5" text-anchor="end" font-size="36" style="font-family:'Liberation Serif',serif;font-weight:bold">2.5</text>
<line x1="927.9" y1="343.3" x2="938.9" y2="343.3" stroke="#000" stroke-width="4"/>
<text x="920.0" y="355.3" text-anchor="end" font-size="36" style="font-family:'Liberation Serif',serif;font-weight:bold">2.0</text>
<line x1="927.9" y1="425.0" x2="938.9" y2="425.0" stroke="#000" stroke-width="4"/>
<text x="920.0" y="437.0" text-anchor="end" font-size="36" style="font-family:'Liberation Serif',serif;font-weight:bold">1.5</text>
<line x1="927.9" y1="506.8" x2="938.9" y2="506.8" stroke="#000" stroke-width="4"/>
<text x="920.0" y="518.8" text-anchor="end" font-size="36" style="font-family:'Liberation Serif',serif;font-weight:bold">1.0</text>
<line x1="927.9" y1="588.5" x2="938.9" y2="588.5" stroke="#000" stroke-width="4"/>
<text x="920.0" y="600.5" text-anchor="end" font-size="36" style="font-family:'Liberation Serif',serif;font-weight:bold">0.5</text>
<line x1="932.9" y1="57.2" x2="938.9" y2="57.2" stroke="#000" stroke-width="3.5"/>
<line x1="932.9" y1="138.9" x2="938.9" y2="138.9" stroke="#000" stroke-width="3.5"/>
<line x1="932.9" y1="220.7" x2="938.9" y2="220.7" stroke="#000" stroke-width="3.5"/>
<line x1="932.9" y1="302.4" x2="938.9" y2="302.4" stroke="#000" stroke-width="3.5"/>
<line x1="932.9" y1="384.1" x2="938.9" y2="384.1" stroke="#000" stroke-width="3.5"/>
<line x1="932.9" y1="465.9" x2="938.9" y2="465.9" stroke="#000" stroke-width="3.5"/>
<line x1="932.9" y1="547.6" x2="938.9" y2="547.6" stroke="#000" stroke-width="3.5"/>
<line x1="938.9" y1="588.5" x2="938.9" y2="599.5" stroke="#000" stroke-width="4"/>
<text x="938.9" y="635.5" text-anchor="middle" font-size="36" style="font-family:'Liberation Serif',serif;font-weight:bold">20</text>
<line x1="1078.5" y1="588.5" x2="1078.5" y2="599.5" stroke="#000" stroke-width="4"/>
<text x="1078.5" y="635.5" text-anchor="middle" font-size="36" style="font-family:'Liberation Serif',serif;font-weight:bold">25</text>
<line x1="1218.0" y1="588.5" x2="1218.0" y2="599.5" stroke="#000" stroke-width="4"/>
<text x="1218.0" y="635.5" text-anchor="middle" font-size="36" style="font-family:'Liberation Serif',serif;font-weight:bold">30</text>
<line x1="1357.6" y1="588.5" x2="1357.6" y2="599.5" stroke="#000" stroke-width="4"/>
<text x="1357.6" y="635.5" text-anchor="middle" font-size="36" style="font-family:'Liberation Serif',serif;font-weight:bold">35</text>
<line x1="1497.1" y1="588.5" x2="1497.1" y2="599.5" stroke="#000" stroke-width="4"/>
<text x="1497.1" y="635.5" text-anchor="middle" font-size="36" style="font-family:'Liberation Serif',serif;font-weight:bold">40</text>
<line x1="1636.7" y1="588.5" x2="1636.7" y2="599.5" stroke="#000" stroke-width="4"/>
<text x="1636.7" y="635.5" text-anchor="middle" font-size="36" style="font-family:'Liberation Serif',serif;font-weight:bold">45</text>
<line x1="1008.7" y1="588.5" x2="1008.7" y2="594.5" stroke="#000" stroke-width="3.5"/>
<line x1="1148.2" y1="588.5" x2="1148.2" y2="594.5" stroke="#000" stroke-width="3.5"/>
<line x1="1287.8" y1="588.5" x2="1287.8" y2="594.5" stroke="#000" stroke-width="3.5"/>
<line x1="1427.4" y1="588.5" x2="1427.4" y2="594.5" stroke="#000" stroke-width="3.5"/>
<line x1="1566.9" y1="588.5" x2="1566.9" y2="594.5" stroke="#000" stroke-width="3.5"/>
<g transform="translate(1287.8,692.2) scale(1.026,1)"><text x="0" y="0" text-anchor="middle" font-size="33.7" style="font-family:'Liberation Serif',serif;font-weight:bold">Frequency (GHz)</text></g>
<text transform="translate(29,303.5) rotate(-90)" text-anchor="middle" font-size="35.4" style="font-family:'Liberation Serif',serif;font-weight:bold">S-Parameter [dB]</text>
<text transform="translate(865,302.6) rotate(-90)" text-anchor="middle" font-size="30" style="font-family:'Liberation Serif',serif;font-weight:bold">VSWR (mag.)</text>
<text x="382.5" y="740.5" text-anchor="middle" font-size="32.2" style="font-family:'Liberation Serif',serif;font-weight:bold">(a)</text>
<text x="1191" y="740.5" text-anchor="middle" font-size="32.2" style="font-family:'Liberation Serif',serif;font-weight:bold">(b)</text>
<path d="M372.3,514.6 L442.3,514.6" fill="none" stroke="#000" stroke-width="4.0" stroke-linecap="round" stroke-linejoin="round"/>
<polygon points="407.0,508.1 408.8,512.7 413.7,512.9 409.9,516.0 411.1,520.8 407.0,518.1 402.9,520.8 404.1,516.0 400.3,512.9 405.2,512.7" fill="#fff" stroke="#000" stroke-width="1.0"/><path d="M399.1,506.7L414.9,522.5M399.1,522.5L414.9,506.7" stroke="#000" stroke-width="1.1"/>
<path d="M584.5,514.6 L654.8,514.6" fill="none" stroke="#cc0000" stroke-width="4.0" stroke-linecap="round" stroke-linejoin="round"/>
<path d="M619.7,507.2V522.0M612.3,514.6H627.1M612.7,507.6L626.7,521.6M612.7,521.6L626.7,507.6" stroke="#cc0000" stroke-width="1.2"/>
<g transform="translate(450.6,525.8) scale(0.967,1)"><text x="0" y="0" font-size="33" style="font-family:'Liberation Serif',serif;font-weight:bold">S<tspan font-size="23" dy="9">11</tspan><tspan dy="-9"> (Sim.)</tspan></text></g>
<g transform="translate(663.3,525.8) scale(0.967,1)"><text x="0" y="0" font-size="33" style="font-family:'Liberation Serif',serif;font-weight:bold">S<tspan font-size="23" dy="9">22</tspan><tspan dy="-9"> (Sim.)</tspan></text></g>
<path d="M372.3,562.7 L442.3,562.7" fill="none" stroke="#000" stroke-width="4.0" stroke-linecap="round" stroke-linejoin="round" stroke-dasharray="11.9 9.7 0.1 11.2"/>
<polygon points="407.0,554.7 409.1,559.8 414.6,560.2 410.4,563.8 411.7,569.2 407.0,566.3 402.3,569.2 403.6,563.8 399.4,560.2 404.9,559.8" fill="#000"/>
<path d="M584.5,562.7 L654.8,562.7" fill="none" stroke="#cc0000" stroke-width="4.0" stroke-linecap="round" stroke-linejoin="round" stroke-dasharray="11.9 9.7 0.1 11.2"/>
<polygon points="619.7,554.9 627.3,560.4 624.4,569.4 615.0,569.4 612.1,560.4" fill="#cc0000"/>
<g transform="translate(450.6,573.4) scale(0.967,1)"><text x="0" y="0" font-size="33" style="font-family:'Liberation Serif',serif;font-weight:bold">S<tspan font-size="23" dy="9">11</tspan><tspan dy="-9"> (Mes.)</tspan></text></g>
<g transform="translate(663.3,573.4) scale(0.967,1)"><text x="0" y="0" font-size="33" style="font-family:'Liberation Serif',serif;font-weight:bold">S<tspan font-size="23" dy="9">22</tspan><tspan dy="-9"> (Mes.)</tspan></text></g>
<path d="M1237.2,42.7 L1302.0,42.7" fill="none" stroke="#000" stroke-width="3.8" stroke-linecap="round" stroke-linejoin="round"/>
<rect x="1262.9" y="36.4" width="12.6" height="12.6" fill="#000"/>
<path d="M1393.8,42.7 L1458.4,42.7" fill="none" stroke="#cc0000" stroke-width="2.6" stroke-linecap="round" stroke-linejoin="round"/>
<circle cx="1426.1" cy="42.7" r="6.5" fill="#cc0000"/>
<text x="1308.5" y="52.8" font-size="29.5" style="font-family:'Liberation Serif',serif;font-weight:bold">Port 1</text>
<text x="1465.5" y="52.8" font-size="29.5" style="font-family:'Liberation Serif',serif;font-weight:bold">Port 2 (Sim.)</text>
<path d="M1236.9,80.3 L1302.0,80.3" fill="none" stroke="#000" stroke-width="2.4" stroke-linecap="round" stroke-linejoin="round" stroke-dasharray="8.5 8.8 0.1 5.15"/>
<polygon points="1269.2,71.3 1277.2,85.3 1261.2,85.3" fill="#000"/>
<path d="M1394.3,80.3 L1458.4,80.3" fill="none" stroke="#cc0000" stroke-width="4.6" stroke-linecap="round" stroke-linejoin="round" stroke-dasharray="11.3 10.7 0.1 11.1"/>
<polygon points="1426.1,89.3 1434.1,75.3 1418.1,75.3" fill="#cc0000"/>
<text x="1308.5" y="90.4" font-size="29.5" style="font-family:'Liberation Serif',serif;font-weight:bold">Port 1</text>
<text x="1465.5" y="90.4" font-size="29.5" style="font-family:'Liberation Serif',serif;font-weight:bold">Port 2 (Mes.)</text>
</svg></body></html>
